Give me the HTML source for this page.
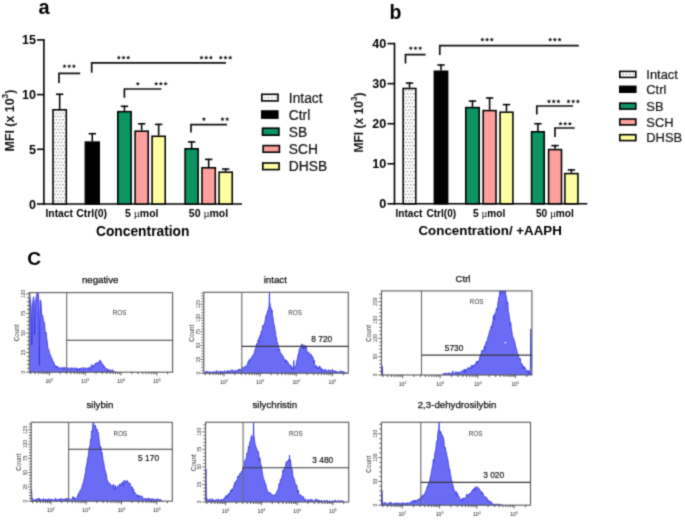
<!DOCTYPE html>
<html><head><meta charset="utf-8"><style>
html,body{margin:0;padding:0;background:#fff;}
svg{display:block;font-family:"Liberation Sans", sans-serif;}
</style></head><body>
<svg width="685" height="529" viewBox="0 0 685 529">
<rect width="685" height="529" fill="#fff"/>
<defs>
<pattern id="dots" width="3.25" height="6.5" patternUnits="userSpaceOnUse" x="54.8" y="111.6"><rect width="3.25" height="6.5" fill="#fff"/><circle cx="1.6" cy="1.6" r="0.7" fill="#707070"/><circle cx="0" cy="4.85" r="0.7" fill="#707070"/><circle cx="3.25" cy="4.85" r="0.7" fill="#707070"/></pattern>
<pattern id="dotsl" width="3.25" height="6.5" patternUnits="userSpaceOnUse" x="0.5" y="1.4"><rect width="3.25" height="6.5" fill="#fff"/><circle cx="1.6" cy="1.6" r="0.6" fill="#8a8a8a"/></pattern>
</defs>
<filter id="bl" x="0" y="0" width="685" height="529" filterUnits="userSpaceOnUse" color-interpolation-filters="sRGB"><feConvolveMatrix order="3" kernelMatrix="1 4 1 4 16 4 1 4 1" divisor="36" edgeMode="duplicate"/></filter>
<g filter="url(#bl)">
<rect width="685" height="529" fill="#fff"/>
<text x="38.60" y="13.80" font-size="20" text-anchor="start" font-weight="bold" fill="#000" >a</text>
<line x1="43.90" y1="39.10" x2="43.90" y2="204.80" stroke="#000" stroke-width="1.6" stroke-linecap="butt"/>
<line x1="43.10" y1="204.00" x2="242.00" y2="204.00" stroke="#000" stroke-width="1.6" stroke-linecap="butt"/>
<line x1="37.00" y1="204.00" x2="43.90" y2="204.00" stroke="#000" stroke-width="1.6" stroke-linecap="butt"/>
<text x="36.00" y="208.50" font-size="12.6" text-anchor="end" font-weight="bold" fill="#000" >0</text>
<line x1="37.00" y1="149.30" x2="43.90" y2="149.30" stroke="#000" stroke-width="1.6" stroke-linecap="butt"/>
<text x="36.00" y="153.80" font-size="12.6" text-anchor="end" font-weight="bold" fill="#000" >5</text>
<line x1="37.00" y1="94.60" x2="43.90" y2="94.60" stroke="#000" stroke-width="1.6" stroke-linecap="butt"/>
<text x="36.00" y="99.10" font-size="12.6" text-anchor="end" font-weight="bold" fill="#000" >10</text>
<line x1="37.00" y1="39.90" x2="43.90" y2="39.90" stroke="#000" stroke-width="1.6" stroke-linecap="butt"/>
<text x="36.00" y="44.40" font-size="12.6" text-anchor="end" font-weight="bold" fill="#000" >15</text>
<text transform="translate(14.20,120.50) rotate(-90)" font-size="12.4" font-weight="bold" text-anchor="middle" fill="#111">MFI (x 10<tspan font-size="8.4" dy="-6.2">3</tspan><tspan dy="6.2">)</tspan></text>
<line x1="59.65" y1="109.00" x2="59.65" y2="93.70" stroke="#000" stroke-width="1.55" stroke-linecap="butt"/>
<line x1="55.95" y1="94.30" x2="63.35" y2="94.30" stroke="#000" stroke-width="1.55" stroke-linecap="butt"/>
<rect x="52.98" y="109.78" width="13.35" height="94.22" fill="url(#dots)" stroke="#000" stroke-width="1.55"/>
<line x1="92.30" y1="141.30" x2="92.30" y2="133.10" stroke="#000" stroke-width="1.55" stroke-linecap="butt"/>
<line x1="88.60" y1="133.70" x2="96.00" y2="133.70" stroke="#000" stroke-width="1.55" stroke-linecap="butt"/>
<rect x="85.38" y="142.08" width="13.85" height="61.92" fill="#000" stroke="#000" stroke-width="1.55"/>
<line x1="124.45" y1="110.90" x2="124.45" y2="105.70" stroke="#000" stroke-width="1.55" stroke-linecap="butt"/>
<line x1="120.75" y1="106.30" x2="128.15" y2="106.30" stroke="#000" stroke-width="1.55" stroke-linecap="butt"/>
<rect x="117.78" y="111.68" width="13.35" height="92.32" fill="#0c9562" stroke="#000" stroke-width="1.55"/>
<line x1="141.65" y1="130.40" x2="141.65" y2="123.20" stroke="#000" stroke-width="1.55" stroke-linecap="butt"/>
<line x1="137.95" y1="123.80" x2="145.35" y2="123.80" stroke="#000" stroke-width="1.55" stroke-linecap="butt"/>
<rect x="135.08" y="131.18" width="13.15" height="72.82" fill="#ff9f9e" stroke="#000" stroke-width="1.55"/>
<line x1="158.65" y1="135.50" x2="158.65" y2="123.80" stroke="#000" stroke-width="1.55" stroke-linecap="butt"/>
<line x1="154.95" y1="124.40" x2="162.35" y2="124.40" stroke="#000" stroke-width="1.55" stroke-linecap="butt"/>
<rect x="152.08" y="136.28" width="13.15" height="67.72" fill="#ffffa2" stroke="#000" stroke-width="1.55"/>
<line x1="191.60" y1="148.00" x2="191.60" y2="141.30" stroke="#000" stroke-width="1.55" stroke-linecap="butt"/>
<line x1="187.90" y1="141.90" x2="195.30" y2="141.90" stroke="#000" stroke-width="1.55" stroke-linecap="butt"/>
<rect x="185.08" y="148.78" width="13.05" height="55.23" fill="#0c9562" stroke="#000" stroke-width="1.55"/>
<line x1="208.65" y1="167.00" x2="208.65" y2="158.80" stroke="#000" stroke-width="1.55" stroke-linecap="butt"/>
<line x1="204.95" y1="159.40" x2="212.35" y2="159.40" stroke="#000" stroke-width="1.55" stroke-linecap="butt"/>
<rect x="201.97" y="167.78" width="13.35" height="36.23" fill="#ff9f9e" stroke="#000" stroke-width="1.55"/>
<line x1="225.65" y1="171.40" x2="225.65" y2="168.50" stroke="#000" stroke-width="1.55" stroke-linecap="butt"/>
<line x1="221.95" y1="169.10" x2="229.35" y2="169.10" stroke="#000" stroke-width="1.55" stroke-linecap="butt"/>
<rect x="219.08" y="172.18" width="13.15" height="31.82" fill="#ffffa2" stroke="#000" stroke-width="1.55"/>
<polyline points="59.00,83.00 59.00,73.40 80.20,73.40" fill="none" stroke="#111" stroke-width="1.7"/>
<polygon points="64.50,64.10 65.12,65.45 66.59,65.62 65.50,66.63 65.79,68.08 64.50,67.36 63.21,68.08 63.50,66.63 62.41,65.62 63.88,65.45" fill="#1a1a1a"/>
<polygon points="69.20,64.10 69.82,65.45 71.29,65.62 70.20,66.63 70.49,68.08 69.20,67.36 67.91,68.08 68.20,66.63 67.11,65.62 68.58,65.45" fill="#1a1a1a"/>
<polygon points="73.90,64.10 74.52,65.45 75.99,65.62 74.90,66.63 75.19,68.08 73.90,67.36 72.61,68.08 72.90,66.63 71.81,65.62 73.28,65.45" fill="#1a1a1a"/>
<polyline points="91.70,72.80 91.70,62.80 226.00,62.80" fill="none" stroke="#111" stroke-width="1.7"/>
<polygon points="118.80,55.40 119.42,56.75 120.89,56.92 119.80,57.93 120.09,59.38 118.80,58.66 117.51,59.38 117.80,57.93 116.71,56.92 118.18,56.75" fill="#1a1a1a"/>
<polygon points="123.50,55.40 124.12,56.75 125.59,56.92 124.50,57.93 124.79,59.38 123.50,58.66 122.21,59.38 122.50,57.93 121.41,56.92 122.88,56.75" fill="#1a1a1a"/>
<polygon points="128.20,55.40 128.82,56.75 130.29,56.92 129.20,57.93 129.49,59.38 128.20,58.66 126.91,59.38 127.20,57.93 126.11,56.92 127.58,56.75" fill="#1a1a1a"/>
<polygon points="201.50,55.40 202.12,56.75 203.59,56.92 202.50,57.93 202.79,59.38 201.50,58.66 200.21,59.38 200.50,57.93 199.41,56.92 200.88,56.75" fill="#1a1a1a"/>
<polygon points="206.20,55.40 206.82,56.75 208.29,56.92 207.20,57.93 207.49,59.38 206.20,58.66 204.91,59.38 205.20,57.93 204.11,56.92 205.58,56.75" fill="#1a1a1a"/>
<polygon points="210.90,55.40 211.52,56.75 212.99,56.92 211.90,57.93 212.19,59.38 210.90,58.66 209.61,59.38 209.90,57.93 208.81,56.92 210.28,56.75" fill="#1a1a1a"/>
<polygon points="220.80,55.40 221.42,56.75 222.89,56.92 221.80,57.93 222.09,59.38 220.80,58.66 219.51,59.38 219.80,57.93 218.71,56.92 220.18,56.75" fill="#1a1a1a"/>
<polygon points="225.50,55.40 226.12,56.75 227.59,56.92 226.50,57.93 226.79,59.38 225.50,58.66 224.21,59.38 224.50,57.93 223.41,56.92 224.88,56.75" fill="#1a1a1a"/>
<polygon points="230.20,55.40 230.82,56.75 232.29,56.92 231.20,57.93 231.49,59.38 230.20,58.66 228.91,59.38 229.20,57.93 228.11,56.92 229.58,56.75" fill="#1a1a1a"/>
<polyline points="124.40,97.80 124.40,89.00 161.30,89.00" fill="none" stroke="#111" stroke-width="1.7"/>
<polygon points="137.80,81.60 138.42,82.95 139.89,83.12 138.80,84.13 139.09,85.58 137.80,84.86 136.51,85.58 136.80,84.13 135.71,83.12 137.18,82.95" fill="#1a1a1a"/>
<polygon points="156.20,81.60 156.82,82.95 158.29,83.12 157.20,84.13 157.49,85.58 156.20,84.86 154.91,85.58 155.20,84.13 154.11,83.12 155.58,82.95" fill="#1a1a1a"/>
<polygon points="160.90,81.60 161.52,82.95 162.99,83.12 161.90,84.13 162.19,85.58 160.90,84.86 159.61,85.58 159.90,84.13 158.81,83.12 160.28,82.95" fill="#1a1a1a"/>
<polygon points="165.60,81.60 166.22,82.95 167.69,83.12 166.60,84.13 166.89,85.58 165.60,84.86 164.31,85.58 164.60,84.13 163.51,83.12 164.98,82.95" fill="#1a1a1a"/>
<polyline points="191.00,132.40 191.00,124.60 227.00,124.60" fill="none" stroke="#111" stroke-width="1.7"/>
<polygon points="203.90,117.00 204.52,118.35 205.99,118.52 204.90,119.53 205.19,120.98 203.90,120.26 202.61,120.98 202.90,119.53 201.81,118.52 203.28,118.35" fill="#1a1a1a"/>
<polygon points="222.50,117.00 223.12,118.35 224.59,118.52 223.50,119.53 223.79,120.98 222.50,120.26 221.21,120.98 221.50,119.53 220.41,118.52 221.88,118.35" fill="#1a1a1a"/>
<polygon points="227.20,117.00 227.82,118.35 229.29,118.52 228.20,119.53 228.49,120.98 227.20,120.26 225.91,120.98 226.20,119.53 225.11,118.52 226.58,118.35" fill="#1a1a1a"/>
<text x="45.50" y="217.00" font-size="10.3" text-anchor="start" font-weight="bold" fill="#000" >Intact</text>
<text x="76.20" y="217.00" font-size="10.5" text-anchor="start" font-weight="bold" fill="#000" >Ctrl(0)</text>
<text x="125.0" y="217.0" font-size="10.5" font-weight="bold" fill="#000">5 <tspan font-weight="normal" font-family="Liberation Serif">&#181;</tspan>mol</text>
<text x="188.8" y="217.0" font-size="10.5" font-weight="bold" fill="#000">50 <tspan font-weight="normal" font-family="Liberation Serif">&#181;</tspan>mol</text>
<text x="142.70" y="236.00" font-size="13.8" text-anchor="middle" font-weight="bold" fill="#000" >Concentration</text>
<rect x="261.80" y="94.30" width="16.20" height="6.60" fill="#fff" stroke="#000" stroke-width="1.6"/>
<circle cx="265.10" cy="97.60" r="0.65" fill="#7a7a7a"/>
<circle cx="268.55" cy="97.60" r="0.65" fill="#7a7a7a"/>
<circle cx="272.00" cy="97.60" r="0.65" fill="#7a7a7a"/>
<circle cx="275.45" cy="97.60" r="0.65" fill="#7a7a7a"/>
<text x="288.80" y="102.57" font-size="13.8" text-anchor="start" font-weight="normal" fill="#111" stroke="#111" stroke-width="0.2">Intact</text>
<rect x="261.80" y="111.00" width="16.00" height="7.10" fill="#000" stroke="#000" stroke-width="1.6"/>
<text x="288.80" y="119.52" font-size="13.8" text-anchor="start" font-weight="normal" fill="#111" stroke="#111" stroke-width="0.2">Ctrl</text>
<rect x="262.50" y="128.20" width="16.40" height="7.00" fill="#0c9562" stroke="#000" stroke-width="1.6"/>
<text x="288.80" y="136.67" font-size="13.8" text-anchor="start" font-weight="normal" fill="#111" stroke="#111" stroke-width="0.2">SB</text>
<rect x="263.10" y="145.60" width="16.30" height="6.60" fill="#ff9f9e" stroke="#000" stroke-width="1.6"/>
<text x="288.80" y="153.87" font-size="13.8" text-anchor="start" font-weight="normal" fill="#111" stroke="#111" stroke-width="0.2">SCH</text>
<rect x="262.80" y="163.00" width="16.30" height="6.60" fill="#ffffa2" stroke="#000" stroke-width="1.6"/>
<text x="288.80" y="171.27" font-size="13.8" text-anchor="start" font-weight="normal" fill="#111" stroke="#111" stroke-width="0.2">DHSB</text>
<text x="389.50" y="18.60" font-size="19.5" text-anchor="start" font-weight="bold" fill="#000" >b</text>
<line x1="394.50" y1="42.80" x2="394.50" y2="204.60" stroke="#000" stroke-width="1.6" stroke-linecap="butt"/>
<line x1="393.70" y1="203.80" x2="587.30" y2="203.80" stroke="#000" stroke-width="1.6" stroke-linecap="butt"/>
<line x1="387.50" y1="203.80" x2="394.50" y2="203.80" stroke="#000" stroke-width="1.6" stroke-linecap="butt"/>
<text x="386.30" y="208.20" font-size="12.6" text-anchor="end" font-weight="bold" fill="#000" >0</text>
<line x1="387.50" y1="163.75" x2="394.50" y2="163.75" stroke="#000" stroke-width="1.6" stroke-linecap="butt"/>
<text x="386.30" y="168.15" font-size="12.6" text-anchor="end" font-weight="bold" fill="#000" >10</text>
<line x1="387.50" y1="123.70" x2="394.50" y2="123.70" stroke="#000" stroke-width="1.6" stroke-linecap="butt"/>
<text x="386.30" y="128.10" font-size="12.6" text-anchor="end" font-weight="bold" fill="#000" >20</text>
<line x1="387.50" y1="83.65" x2="394.50" y2="83.65" stroke="#000" stroke-width="1.6" stroke-linecap="butt"/>
<text x="386.30" y="88.05" font-size="12.6" text-anchor="end" font-weight="bold" fill="#000" >30</text>
<line x1="387.50" y1="43.60" x2="394.50" y2="43.60" stroke="#000" stroke-width="1.6" stroke-linecap="butt"/>
<text x="386.30" y="48.00" font-size="12.6" text-anchor="end" font-weight="bold" fill="#000" >40</text>
<text transform="translate(363.30,122.50) rotate(-90)" font-size="12.0" font-weight="bold" text-anchor="middle" fill="#111">MFI (x 10<tspan font-size="8.2" dy="-6.0">3</tspan><tspan dy="6.0">)</tspan></text>
<line x1="409.50" y1="87.70" x2="409.50" y2="82.50" stroke="#000" stroke-width="1.55" stroke-linecap="butt"/>
<line x1="405.80" y1="83.10" x2="413.20" y2="83.10" stroke="#000" stroke-width="1.55" stroke-linecap="butt"/>
<rect x="403.17" y="88.48" width="12.65" height="115.33" fill="url(#dots)" stroke="#000" stroke-width="1.55"/>
<line x1="441.00" y1="70.50" x2="441.00" y2="64.40" stroke="#000" stroke-width="1.55" stroke-linecap="butt"/>
<line x1="437.30" y1="65.00" x2="444.70" y2="65.00" stroke="#000" stroke-width="1.55" stroke-linecap="butt"/>
<rect x="434.38" y="71.28" width="13.25" height="132.53" fill="#000" stroke="#000" stroke-width="1.55"/>
<line x1="472.50" y1="106.80" x2="472.50" y2="100.50" stroke="#000" stroke-width="1.55" stroke-linecap="butt"/>
<line x1="468.80" y1="101.10" x2="476.20" y2="101.10" stroke="#000" stroke-width="1.55" stroke-linecap="butt"/>
<rect x="465.77" y="107.58" width="13.45" height="96.23" fill="#0c9562" stroke="#000" stroke-width="1.55"/>
<line x1="489.60" y1="109.80" x2="489.60" y2="97.40" stroke="#000" stroke-width="1.55" stroke-linecap="butt"/>
<line x1="485.90" y1="98.00" x2="493.30" y2="98.00" stroke="#000" stroke-width="1.55" stroke-linecap="butt"/>
<rect x="483.17" y="110.58" width="12.85" height="93.23" fill="#ff9f9e" stroke="#000" stroke-width="1.55"/>
<line x1="506.50" y1="111.40" x2="506.50" y2="104.00" stroke="#000" stroke-width="1.55" stroke-linecap="butt"/>
<line x1="502.80" y1="104.60" x2="510.20" y2="104.60" stroke="#000" stroke-width="1.55" stroke-linecap="butt"/>
<rect x="500.07" y="112.18" width="12.85" height="91.62" fill="#ffffa2" stroke="#000" stroke-width="1.55"/>
<line x1="537.90" y1="131.00" x2="537.90" y2="123.10" stroke="#000" stroke-width="1.55" stroke-linecap="butt"/>
<line x1="534.20" y1="123.70" x2="541.60" y2="123.70" stroke="#000" stroke-width="1.55" stroke-linecap="butt"/>
<rect x="531.57" y="131.78" width="12.65" height="72.03" fill="#0c9562" stroke="#000" stroke-width="1.55"/>
<line x1="555.05" y1="148.80" x2="555.05" y2="145.00" stroke="#000" stroke-width="1.55" stroke-linecap="butt"/>
<line x1="551.35" y1="145.60" x2="558.75" y2="145.60" stroke="#000" stroke-width="1.55" stroke-linecap="butt"/>
<rect x="548.57" y="149.58" width="12.95" height="54.23" fill="#ff9f9e" stroke="#000" stroke-width="1.55"/>
<line x1="571.40" y1="172.80" x2="571.40" y2="169.30" stroke="#000" stroke-width="1.55" stroke-linecap="butt"/>
<line x1="567.70" y1="169.90" x2="575.10" y2="169.90" stroke="#000" stroke-width="1.55" stroke-linecap="butt"/>
<rect x="564.88" y="173.58" width="13.05" height="30.23" fill="#ffffa2" stroke="#000" stroke-width="1.55"/>
<polyline points="405.50,63.40 405.50,54.70 425.70,54.70" fill="none" stroke="#111" stroke-width="1.7"/>
<polygon points="410.80,46.10 411.42,47.45 412.89,47.62 411.80,48.63 412.09,50.08 410.80,49.36 409.51,50.08 409.80,48.63 408.71,47.62 410.18,47.45" fill="#1a1a1a"/>
<polygon points="415.50,46.10 416.12,47.45 417.59,47.62 416.50,48.63 416.79,50.08 415.50,49.36 414.21,50.08 414.50,48.63 413.41,47.62 414.88,47.45" fill="#1a1a1a"/>
<polygon points="420.20,46.10 420.82,47.45 422.29,47.62 421.20,48.63 421.49,50.08 420.20,49.36 418.91,50.08 419.20,48.63 418.11,47.62 419.58,47.45" fill="#1a1a1a"/>
<polyline points="439.80,54.90 439.80,45.60 578.80,45.60" fill="none" stroke="#111" stroke-width="1.7"/>
<polygon points="482.40,37.40 483.02,38.75 484.49,38.92 483.40,39.93 483.69,41.38 482.40,40.66 481.11,41.38 481.40,39.93 480.31,38.92 481.78,38.75" fill="#1a1a1a"/>
<polygon points="487.10,37.40 487.72,38.75 489.19,38.92 488.10,39.93 488.39,41.38 487.10,40.66 485.81,41.38 486.10,39.93 485.01,38.92 486.48,38.75" fill="#1a1a1a"/>
<polygon points="491.80,37.40 492.42,38.75 493.89,38.92 492.80,39.93 493.09,41.38 491.80,40.66 490.51,41.38 490.80,39.93 489.71,38.92 491.18,38.75" fill="#1a1a1a"/>
<polygon points="550.20,37.40 550.82,38.75 552.29,38.92 551.20,39.93 551.49,41.38 550.20,40.66 548.91,41.38 549.20,39.93 548.11,38.92 549.58,38.75" fill="#1a1a1a"/>
<polygon points="554.90,37.40 555.52,38.75 556.99,38.92 555.90,39.93 556.19,41.38 554.90,40.66 553.61,41.38 553.90,39.93 552.81,38.92 554.28,38.75" fill="#1a1a1a"/>
<polygon points="559.60,37.40 560.22,38.75 561.69,38.92 560.60,39.93 560.89,41.38 559.60,40.66 558.31,41.38 558.60,39.93 557.51,38.92 558.98,38.75" fill="#1a1a1a"/>
<polyline points="536.80,114.50 536.80,106.00 573.00,106.00" fill="none" stroke="#111" stroke-width="1.7"/>
<polygon points="549.00,99.20 549.62,100.55 551.09,100.72 550.00,101.73 550.29,103.18 549.00,102.46 547.71,103.18 548.00,101.73 546.91,100.72 548.38,100.55" fill="#1a1a1a"/>
<polygon points="553.70,99.20 554.32,100.55 555.79,100.72 554.70,101.73 554.99,103.18 553.70,102.46 552.41,103.18 552.70,101.73 551.61,100.72 553.08,100.55" fill="#1a1a1a"/>
<polygon points="558.40,99.20 559.02,100.55 560.49,100.72 559.40,101.73 559.69,103.18 558.40,102.46 557.11,103.18 557.40,101.73 556.31,100.72 557.78,100.55" fill="#1a1a1a"/>
<polygon points="568.50,99.20 569.12,100.55 570.59,100.72 569.50,101.73 569.79,103.18 568.50,102.46 567.21,103.18 567.50,101.73 566.41,100.72 567.88,100.55" fill="#1a1a1a"/>
<polygon points="573.20,99.20 573.82,100.55 575.29,100.72 574.20,101.73 574.49,103.18 573.20,102.46 571.91,103.18 572.20,101.73 571.11,100.72 572.58,100.55" fill="#1a1a1a"/>
<polygon points="577.90,99.20 578.52,100.55 579.99,100.72 578.90,101.73 579.19,103.18 577.90,102.46 576.61,103.18 576.90,101.73 575.81,100.72 577.28,100.55" fill="#1a1a1a"/>
<polyline points="555.00,137.00 555.00,128.00 574.80,128.00" fill="none" stroke="#111" stroke-width="1.7"/>
<polygon points="560.50,121.60 561.12,122.95 562.59,123.12 561.50,124.13 561.79,125.58 560.50,124.86 559.21,125.58 559.50,124.13 558.41,123.12 559.88,122.95" fill="#1a1a1a"/>
<polygon points="565.20,121.60 565.82,122.95 567.29,123.12 566.20,124.13 566.49,125.58 565.20,124.86 563.91,125.58 564.20,124.13 563.11,123.12 564.58,122.95" fill="#1a1a1a"/>
<polygon points="569.90,121.60 570.52,122.95 571.99,123.12 570.90,124.13 571.19,125.58 569.90,124.86 568.61,125.58 568.90,124.13 567.81,123.12 569.28,122.95" fill="#1a1a1a"/>
<text x="395.50" y="216.60" font-size="10.1" text-anchor="start" font-weight="bold" fill="#000" >Intact</text>
<text x="426.40" y="216.60" font-size="10.1" text-anchor="start" font-weight="bold" fill="#000" >Ctrl(0)</text>
<text x="473.1" y="216.6" font-size="10.1" font-weight="bold" fill="#000">5 <tspan font-weight="normal" font-family="Liberation Serif">&#181;</tspan>mol</text>
<text x="535.9" y="216.6" font-size="10.1" font-weight="bold" fill="#000">50 <tspan font-weight="normal" font-family="Liberation Serif">&#181;</tspan>mol</text>
<text x="490.20" y="234.60" font-size="13.35" text-anchor="middle" font-weight="bold" fill="#000" >Concentration/ +AAPH</text>
<rect x="619.80" y="71.40" width="16.00" height="6.00" fill="#fff" stroke="#000" stroke-width="1.6"/>
<circle cx="623.10" cy="74.40" r="0.65" fill="#7a7a7a"/>
<circle cx="626.55" cy="74.40" r="0.65" fill="#7a7a7a"/>
<circle cx="630.00" cy="74.40" r="0.65" fill="#7a7a7a"/>
<circle cx="633.45" cy="74.40" r="0.65" fill="#7a7a7a"/>
<text x="646.30" y="79.04" font-size="12.9" text-anchor="start" font-weight="normal" fill="#111" stroke="#111" stroke-width="0.2">Intact</text>
<rect x="619.80" y="86.40" width="16.00" height="5.80" fill="#000" stroke="#000" stroke-width="1.6"/>
<text x="646.30" y="93.94" font-size="12.9" text-anchor="start" font-weight="normal" fill="#111" stroke="#111" stroke-width="0.2">Ctrl</text>
<rect x="619.80" y="103.20" width="16.00" height="5.90" fill="#0c9562" stroke="#000" stroke-width="1.6"/>
<text x="646.30" y="110.79" font-size="12.9" text-anchor="start" font-weight="normal" fill="#111" stroke="#111" stroke-width="0.2">SB</text>
<rect x="619.80" y="119.00" width="16.00" height="5.90" fill="#ff9f9e" stroke="#000" stroke-width="1.6"/>
<text x="646.30" y="126.59" font-size="12.9" text-anchor="start" font-weight="normal" fill="#111" stroke="#111" stroke-width="0.2">SCH</text>
<rect x="619.80" y="134.70" width="16.00" height="5.90" fill="#ffffa2" stroke="#000" stroke-width="1.6"/>
<text x="646.30" y="142.29" font-size="12.9" text-anchor="start" font-weight="normal" fill="#111" stroke="#111" stroke-width="0.2">DHSB</text>
<text x="27.30" y="264.70" font-size="19.2" text-anchor="start" font-weight="bold" fill="#000" >C</text>
<polygon points="29.60,372.20 29.60,292.76 29.70,292.60 30.10,298.04 30.60,301.32 31.10,305.82 31.60,325.96 31.80,345.00 32.10,317.62 32.60,303.95 33.10,298.97 33.60,296.73 34.10,302.10 34.60,335.00 34.60,335.00 35.10,302.40 35.60,301.00 36.10,297.16 36.60,295.56 37.10,292.60 37.60,292.88 38.00,292.60 38.10,293.40 38.60,295.06 39.10,318.39 39.40,365.00 39.60,334.66 40.10,300.26 40.60,299.97 41.10,303.60 41.60,314.03 42.10,315.37 42.60,315.07 43.10,318.56 43.60,320.37 44.10,323.21 44.60,322.70 45.10,331.25 45.60,333.13 46.10,332.22 46.60,337.43 47.10,340.33 47.60,345.03 48.10,349.55 48.60,349.21 49.10,350.65 49.60,353.81 50.10,354.41 50.60,354.95 51.10,357.39 51.60,357.63 52.10,358.72 52.60,360.11 53.10,362.05 53.60,362.07 54.10,362.98 54.60,364.80 55.10,366.96 55.60,365.66 56.10,367.10 56.60,365.99 57.10,368.11 57.60,366.44 58.10,367.53 58.60,368.73 59.10,367.89 59.60,367.59 60.10,367.43 60.60,368.65 61.10,368.80 61.60,367.63 62.10,368.29 62.60,367.68 63.10,367.24 63.60,369.51 64.10,367.80 64.60,366.95 65.10,368.39 65.60,368.91 66.10,367.52 66.60,367.99 67.10,367.43 67.60,368.58 68.10,369.64 68.60,368.41 69.10,368.74 69.60,367.65 70.10,368.20 70.60,369.87 71.10,369.50 71.60,367.64 72.10,367.85 72.60,369.06 73.10,368.51 73.60,368.13 74.10,368.13 74.60,367.78 75.10,368.36 75.60,368.70 76.10,368.86 76.60,367.71 77.10,370.68 77.60,368.82 78.10,368.69 78.60,370.01 79.10,368.47 79.60,369.36 80.10,368.03 80.60,368.88 81.10,368.14 81.60,367.62 82.10,368.33 82.60,369.43 83.10,369.97 83.60,367.01 84.10,368.65 84.60,369.14 85.10,368.36 85.60,368.64 86.10,367.66 86.60,368.37 87.10,368.36 87.60,368.99 88.10,367.89 88.60,369.23 89.10,367.65 89.60,366.83 90.10,369.52 90.60,370.03 91.10,366.73 91.60,364.46 92.10,367.50 92.60,367.37 93.10,365.12 93.60,366.18 94.10,365.44 94.60,364.87 95.10,363.52 95.60,364.10 96.10,362.95 96.60,363.03 97.10,363.40 97.60,362.59 98.10,363.08 98.60,361.78 99.10,362.85 99.60,362.60 100.10,359.94 100.60,362.03 101.10,362.40 101.60,362.14 102.10,363.64 102.60,364.29 103.10,364.48 103.60,365.52 104.10,367.74 104.60,366.30 105.10,368.15 105.60,369.07 106.10,369.41 106.60,369.44 107.10,368.15 107.60,370.66 108.10,369.68 108.60,371.72 109.10,370.10 109.60,369.51 110.10,370.57 110.60,371.02 111.10,370.48 111.60,370.27 112.10,370.44 112.60,369.62 113.10,371.08 113.60,371.81 114.10,371.62 114.60,371.73 115.10,371.83 115.60,371.98 116.10,372.20 116.60,372.20 117.10,372.20 117.60,372.20 118.10,372.20 118.60,372.20 119.10,372.20 119.60,372.20 120.10,372.20 120.60,372.20 121.10,372.20 121.60,372.20 122.10,372.20 122.60,372.20 123.10,372.20 123.60,372.20 124.10,372.20 124.60,372.20 125.10,372.20 125.60,372.20 126.10,372.20 126.60,372.20 127.10,372.20 127.60,372.20 128.10,372.20 128.60,372.20 129.10,372.20 129.60,372.20 130.10,372.20 130.60,372.20 131.10,372.20 131.60,372.20 132.10,372.20 132.60,372.20 133.10,372.20 133.60,372.20 134.10,372.20 134.60,372.20 135.10,372.20 135.60,372.20 136.10,372.20 136.60,372.20 137.10,372.20 137.60,372.20 138.10,372.20 138.60,372.20 139.10,372.20 139.60,372.20 140.10,372.20 140.60,372.20 141.10,372.20 141.60,372.20 142.10,372.20 142.60,372.20 143.10,372.20 143.60,372.20 144.10,372.20 144.60,372.20 145.10,372.20 145.60,372.20 146.10,372.20 146.60,372.20 147.10,372.20 147.60,372.20 148.10,372.20 148.60,372.20 149.10,372.20 149.60,372.20 150.10,372.20 150.60,372.20 151.10,372.20 151.60,372.20 152.10,372.20 152.60,372.20 153.10,372.20 153.60,372.20 154.10,372.20 154.60,372.20 155.10,372.20 155.60,372.20 156.10,372.20 156.60,372.20 157.10,372.20 157.60,372.20 158.10,372.20 158.60,372.20 159.10,372.20 159.60,372.20 160.10,372.20 160.60,372.20 161.10,372.20 161.60,372.20 162.10,372.20 162.60,372.20 163.10,372.20 163.60,372.20 164.10,372.20 164.60,372.20 165.10,372.20 165.60,372.20 166.10,372.20 166.60,372.20 167.10,372.20 167.60,372.20 168.10,372.20 168.60,372.20 169.10,372.20 169.60,372.20 170.10,372.20 170.60,372.20 171.10,372.20 171.60,372.20 172.10,372.20 172.30,372.20" fill="#6a6cf6" stroke="none"/>
<polyline points="29.60,292.76 29.70,292.60 30.10,298.04 30.60,301.32 31.10,305.82 31.60,325.96 31.80,345.00 32.10,317.62 32.60,303.95 33.10,298.97 33.60,296.73 34.10,302.10 34.60,335.00 34.60,335.00 35.10,302.40 35.60,301.00 36.10,297.16 36.60,295.56 37.10,292.60 37.60,292.88 38.00,292.60 38.10,293.40 38.60,295.06 39.10,318.39 39.40,365.00 39.60,334.66 40.10,300.26 40.60,299.97 41.10,303.60 41.60,314.03 42.10,315.37 42.60,315.07 43.10,318.56 43.60,320.37 44.10,323.21 44.60,322.70 45.10,331.25 45.60,333.13 46.10,332.22 46.60,337.43 47.10,340.33 47.60,345.03 48.10,349.55 48.60,349.21 49.10,350.65 49.60,353.81 50.10,354.41 50.60,354.95 51.10,357.39 51.60,357.63 52.10,358.72 52.60,360.11 53.10,362.05 53.60,362.07 54.10,362.98 54.60,364.80 55.10,366.96 55.60,365.66 56.10,367.10 56.60,365.99 57.10,368.11 57.60,366.44 58.10,367.53 58.60,368.73 59.10,367.89 59.60,367.59 60.10,367.43 60.60,368.65 61.10,368.80 61.60,367.63 62.10,368.29 62.60,367.68 63.10,367.24 63.60,369.51 64.10,367.80 64.60,366.95 65.10,368.39 65.60,368.91 66.10,367.52 66.60,367.99 67.10,367.43 67.60,368.58 68.10,369.64 68.60,368.41 69.10,368.74 69.60,367.65 70.10,368.20 70.60,369.87 71.10,369.50 71.60,367.64 72.10,367.85 72.60,369.06 73.10,368.51 73.60,368.13 74.10,368.13 74.60,367.78 75.10,368.36 75.60,368.70 76.10,368.86 76.60,367.71 77.10,370.68 77.60,368.82 78.10,368.69 78.60,370.01 79.10,368.47 79.60,369.36 80.10,368.03 80.60,368.88 81.10,368.14 81.60,367.62 82.10,368.33 82.60,369.43 83.10,369.97 83.60,367.01 84.10,368.65 84.60,369.14 85.10,368.36 85.60,368.64 86.10,367.66 86.60,368.37 87.10,368.36 87.60,368.99 88.10,367.89 88.60,369.23 89.10,367.65 89.60,366.83 90.10,369.52 90.60,370.03 91.10,366.73 91.60,364.46 92.10,367.50 92.60,367.37 93.10,365.12 93.60,366.18 94.10,365.44 94.60,364.87 95.10,363.52 95.60,364.10 96.10,362.95 96.60,363.03 97.10,363.40 97.60,362.59 98.10,363.08 98.60,361.78 99.10,362.85 99.60,362.60 100.10,359.94 100.60,362.03 101.10,362.40 101.60,362.14 102.10,363.64 102.60,364.29 103.10,364.48 103.60,365.52 104.10,367.74 104.60,366.30 105.10,368.15 105.60,369.07 106.10,369.41 106.60,369.44 107.10,368.15 107.60,370.66 108.10,369.68 108.60,371.72 109.10,370.10 109.60,369.51 110.10,370.57 110.60,371.02 111.10,370.48 111.60,370.27 112.10,370.44 112.60,369.62 113.10,371.08 113.60,371.81 114.10,371.62 114.60,371.73 115.10,371.83 115.60,371.98" fill="none" stroke="#2c2ce2" stroke-width="0.75" stroke-linejoin="round"/>
<rect x="29.30" y="292.60" width="143.30" height="79.60" fill="none" stroke="#5a5a5a" stroke-width="1.1"/>
<line x1="66.70" y1="292.60" x2="66.70" y2="372.20" stroke="#686868" stroke-width="1.1" stroke-linecap="butt"/>
<line x1="66.70" y1="340.30" x2="172.60" y2="340.30" stroke="#3a3a3a" stroke-width="1.1" stroke-linecap="butt"/>
<text x="119.65" y="315.10" font-size="6.3" text-anchor="middle" font-weight="normal" fill="#333" >ROS</text>
<text x="100.20" y="283.20" font-size="9.7" text-anchor="middle" font-weight="normal" fill="#111" stroke="#111" stroke-width="0.25">negative</text>
<line x1="30.63" y1="372.20" x2="30.63" y2="374.20" stroke="#2a2a2a" stroke-width="0.75" stroke-linecap="butt"/>
<line x1="35.11" y1="372.20" x2="35.11" y2="374.20" stroke="#2a2a2a" stroke-width="0.75" stroke-linecap="butt"/>
<line x1="38.58" y1="372.20" x2="38.58" y2="374.20" stroke="#2a2a2a" stroke-width="0.75" stroke-linecap="butt"/>
<line x1="41.41" y1="372.20" x2="41.41" y2="374.20" stroke="#2a2a2a" stroke-width="0.75" stroke-linecap="butt"/>
<line x1="43.81" y1="372.20" x2="43.81" y2="374.20" stroke="#2a2a2a" stroke-width="0.75" stroke-linecap="butt"/>
<line x1="45.89" y1="372.20" x2="45.89" y2="374.20" stroke="#2a2a2a" stroke-width="0.75" stroke-linecap="butt"/>
<line x1="47.72" y1="372.20" x2="47.72" y2="374.20" stroke="#2a2a2a" stroke-width="0.75" stroke-linecap="butt"/>
<line x1="49.36" y1="372.20" x2="49.36" y2="375.40" stroke="#2a2a2a" stroke-width="0.75" stroke-linecap="butt"/>
<line x1="60.15" y1="372.20" x2="60.15" y2="374.20" stroke="#2a2a2a" stroke-width="0.75" stroke-linecap="butt"/>
<line x1="66.45" y1="372.20" x2="66.45" y2="374.20" stroke="#2a2a2a" stroke-width="0.75" stroke-linecap="butt"/>
<line x1="70.93" y1="372.20" x2="70.93" y2="374.20" stroke="#2a2a2a" stroke-width="0.75" stroke-linecap="butt"/>
<line x1="74.40" y1="372.20" x2="74.40" y2="374.20" stroke="#2a2a2a" stroke-width="0.75" stroke-linecap="butt"/>
<line x1="77.24" y1="372.20" x2="77.24" y2="374.20" stroke="#2a2a2a" stroke-width="0.75" stroke-linecap="butt"/>
<line x1="79.64" y1="372.20" x2="79.64" y2="374.20" stroke="#2a2a2a" stroke-width="0.75" stroke-linecap="butt"/>
<line x1="81.72" y1="372.20" x2="81.72" y2="374.20" stroke="#2a2a2a" stroke-width="0.75" stroke-linecap="butt"/>
<line x1="83.55" y1="372.20" x2="83.55" y2="374.20" stroke="#2a2a2a" stroke-width="0.75" stroke-linecap="butt"/>
<text x="49.36" y="382.70" font-size="5.2" text-anchor="middle" fill="#222">10<tspan font-size="3.5" dy="-2">2</tspan></text>
<line x1="85.19" y1="372.20" x2="85.19" y2="375.40" stroke="#2a2a2a" stroke-width="0.75" stroke-linecap="butt"/>
<line x1="95.97" y1="372.20" x2="95.97" y2="374.20" stroke="#2a2a2a" stroke-width="0.75" stroke-linecap="butt"/>
<line x1="102.28" y1="372.20" x2="102.28" y2="374.20" stroke="#2a2a2a" stroke-width="0.75" stroke-linecap="butt"/>
<line x1="106.76" y1="372.20" x2="106.76" y2="374.20" stroke="#2a2a2a" stroke-width="0.75" stroke-linecap="butt"/>
<line x1="110.23" y1="372.20" x2="110.23" y2="374.20" stroke="#2a2a2a" stroke-width="0.75" stroke-linecap="butt"/>
<line x1="113.06" y1="372.20" x2="113.06" y2="374.20" stroke="#2a2a2a" stroke-width="0.75" stroke-linecap="butt"/>
<line x1="115.46" y1="372.20" x2="115.46" y2="374.20" stroke="#2a2a2a" stroke-width="0.75" stroke-linecap="butt"/>
<line x1="117.54" y1="372.20" x2="117.54" y2="374.20" stroke="#2a2a2a" stroke-width="0.75" stroke-linecap="butt"/>
<line x1="119.37" y1="372.20" x2="119.37" y2="374.20" stroke="#2a2a2a" stroke-width="0.75" stroke-linecap="butt"/>
<text x="85.19" y="382.70" font-size="5.2" text-anchor="middle" fill="#222">10<tspan font-size="3.5" dy="-2">3</tspan></text>
<line x1="121.01" y1="372.20" x2="121.01" y2="375.40" stroke="#2a2a2a" stroke-width="0.75" stroke-linecap="butt"/>
<line x1="131.80" y1="372.20" x2="131.80" y2="374.20" stroke="#2a2a2a" stroke-width="0.75" stroke-linecap="butt"/>
<line x1="138.10" y1="372.20" x2="138.10" y2="374.20" stroke="#2a2a2a" stroke-width="0.75" stroke-linecap="butt"/>
<line x1="142.58" y1="372.20" x2="142.58" y2="374.20" stroke="#2a2a2a" stroke-width="0.75" stroke-linecap="butt"/>
<line x1="146.05" y1="372.20" x2="146.05" y2="374.20" stroke="#2a2a2a" stroke-width="0.75" stroke-linecap="butt"/>
<line x1="148.89" y1="372.20" x2="148.89" y2="374.20" stroke="#2a2a2a" stroke-width="0.75" stroke-linecap="butt"/>
<line x1="151.29" y1="372.20" x2="151.29" y2="374.20" stroke="#2a2a2a" stroke-width="0.75" stroke-linecap="butt"/>
<line x1="153.37" y1="372.20" x2="153.37" y2="374.20" stroke="#2a2a2a" stroke-width="0.75" stroke-linecap="butt"/>
<line x1="155.20" y1="372.20" x2="155.20" y2="374.20" stroke="#2a2a2a" stroke-width="0.75" stroke-linecap="butt"/>
<text x="121.01" y="382.70" font-size="5.2" text-anchor="middle" fill="#222">10<tspan font-size="3.5" dy="-2">4</tspan></text>
<line x1="156.84" y1="372.20" x2="156.84" y2="375.40" stroke="#2a2a2a" stroke-width="0.75" stroke-linecap="butt"/>
<line x1="167.62" y1="372.20" x2="167.62" y2="374.20" stroke="#2a2a2a" stroke-width="0.75" stroke-linecap="butt"/>
<text x="156.84" y="382.70" font-size="5.2" text-anchor="middle" fill="#222">10<tspan font-size="3.5" dy="-2">5</tspan></text>
<line x1="25.80" y1="372.20" x2="29.30" y2="372.20" stroke="#2a2a2a" stroke-width="0.65" stroke-linecap="butt"/>
<line x1="26.90" y1="368.28" x2="29.30" y2="368.28" stroke="#2a2a2a" stroke-width="0.65" stroke-linecap="butt"/>
<line x1="26.90" y1="364.37" x2="29.30" y2="364.37" stroke="#2a2a2a" stroke-width="0.65" stroke-linecap="butt"/>
<line x1="26.90" y1="360.45" x2="29.30" y2="360.45" stroke="#2a2a2a" stroke-width="0.65" stroke-linecap="butt"/>
<line x1="26.90" y1="356.53" x2="29.30" y2="356.53" stroke="#2a2a2a" stroke-width="0.65" stroke-linecap="butt"/>
<line x1="25.80" y1="352.62" x2="29.30" y2="352.62" stroke="#2a2a2a" stroke-width="0.65" stroke-linecap="butt"/>
<line x1="26.90" y1="348.70" x2="29.30" y2="348.70" stroke="#2a2a2a" stroke-width="0.65" stroke-linecap="butt"/>
<line x1="26.90" y1="344.79" x2="29.30" y2="344.79" stroke="#2a2a2a" stroke-width="0.65" stroke-linecap="butt"/>
<line x1="26.90" y1="340.87" x2="29.30" y2="340.87" stroke="#2a2a2a" stroke-width="0.65" stroke-linecap="butt"/>
<line x1="26.90" y1="336.95" x2="29.30" y2="336.95" stroke="#2a2a2a" stroke-width="0.65" stroke-linecap="butt"/>
<line x1="25.80" y1="333.04" x2="29.30" y2="333.04" stroke="#2a2a2a" stroke-width="0.65" stroke-linecap="butt"/>
<line x1="26.90" y1="329.12" x2="29.30" y2="329.12" stroke="#2a2a2a" stroke-width="0.65" stroke-linecap="butt"/>
<line x1="26.90" y1="325.20" x2="29.30" y2="325.20" stroke="#2a2a2a" stroke-width="0.65" stroke-linecap="butt"/>
<line x1="26.90" y1="321.29" x2="29.30" y2="321.29" stroke="#2a2a2a" stroke-width="0.65" stroke-linecap="butt"/>
<line x1="26.90" y1="317.37" x2="29.30" y2="317.37" stroke="#2a2a2a" stroke-width="0.65" stroke-linecap="butt"/>
<line x1="25.80" y1="313.46" x2="29.30" y2="313.46" stroke="#2a2a2a" stroke-width="0.65" stroke-linecap="butt"/>
<line x1="26.90" y1="309.54" x2="29.30" y2="309.54" stroke="#2a2a2a" stroke-width="0.65" stroke-linecap="butt"/>
<line x1="26.90" y1="305.62" x2="29.30" y2="305.62" stroke="#2a2a2a" stroke-width="0.65" stroke-linecap="butt"/>
<line x1="26.90" y1="301.71" x2="29.30" y2="301.71" stroke="#2a2a2a" stroke-width="0.65" stroke-linecap="butt"/>
<line x1="26.90" y1="297.79" x2="29.30" y2="297.79" stroke="#2a2a2a" stroke-width="0.65" stroke-linecap="butt"/>
<line x1="25.80" y1="293.87" x2="29.30" y2="293.87" stroke="#2a2a2a" stroke-width="0.65" stroke-linecap="butt"/>
<text transform="translate(25.00,372.20) rotate(-90)" font-size="4.8" text-anchor="middle" fill="#333">0</text>
<text transform="translate(25.00,352.62) rotate(-90)" font-size="4.8" text-anchor="middle" fill="#333">25</text>
<text transform="translate(25.00,333.04) rotate(-90)" font-size="4.8" text-anchor="middle" fill="#333">50</text>
<text transform="translate(25.00,313.46) rotate(-90)" font-size="4.8" text-anchor="middle" fill="#333">75</text>
<text transform="translate(25.00,293.87) rotate(-90)" font-size="4.8" text-anchor="middle" fill="#333">100</text>
<text transform="translate(19.20,332.90) rotate(-90)" font-size="6.3" text-anchor="middle" fill="#222">Count</text>
<polygon points="204.10,373.20 204.10,372.10 204.60,372.56 205.10,372.48 205.60,373.20 206.10,370.96 206.60,371.39 207.10,372.37 207.60,371.62 208.10,371.94 208.60,372.49 209.10,371.44 209.60,372.30 210.10,372.30 210.60,372.61 211.10,371.74 211.60,372.11 212.10,371.65 212.60,372.43 213.10,371.92 213.60,372.60 214.10,371.40 214.60,371.84 215.10,371.72 215.60,371.66 216.10,372.63 216.60,371.37 217.10,370.48 217.60,373.03 218.10,373.08 218.60,372.91 219.10,371.27 219.60,371.75 220.10,371.07 220.60,371.31 221.10,371.66 221.60,371.59 222.10,371.90 222.60,371.16 223.10,372.55 223.60,372.04 224.10,371.56 224.60,370.44 225.10,372.24 225.60,372.46 226.10,372.08 226.60,370.98 227.10,371.82 227.60,370.70 228.10,372.96 228.60,370.81 229.10,370.87 229.60,372.61 230.10,371.46 230.60,370.61 231.10,371.34 231.60,370.59 232.10,369.49 232.60,370.96 233.10,371.29 233.60,371.58 234.10,370.43 234.60,370.99 235.10,370.89 235.60,370.76 236.10,370.09 236.60,371.34 237.10,371.62 237.60,372.26 238.10,369.33 238.60,370.13 239.10,368.91 239.60,370.04 240.10,370.51 240.60,369.28 241.10,369.48 241.60,370.21 242.10,369.67 242.60,367.16 243.10,367.98 243.60,367.54 244.10,367.77 244.60,367.77 245.10,365.94 245.60,366.48 246.10,366.71 246.60,365.39 247.10,365.33 247.60,363.42 248.10,361.62 248.60,362.84 249.10,359.61 249.60,361.04 250.10,359.32 250.60,359.61 251.10,358.10 251.60,356.96 252.10,356.52 252.60,355.84 253.10,354.81 253.60,353.99 254.10,353.94 254.60,351.29 255.10,349.42 255.60,347.74 256.10,347.06 256.60,343.62 257.10,345.33 257.60,344.73 258.10,339.79 258.60,342.26 259.10,337.68 259.60,338.83 260.10,335.22 260.60,337.08 261.10,331.08 261.60,331.30 262.10,331.16 262.60,325.54 263.10,325.57 263.60,325.31 264.10,325.20 264.60,322.63 265.10,321.25 265.60,317.47 266.10,315.06 266.60,315.35 267.10,312.89 267.60,310.77 268.10,310.85 268.60,308.06 269.10,305.74 269.50,292.30 269.60,302.41 270.10,303.63 270.60,308.87 271.10,307.97 271.60,312.18 272.10,310.17 272.60,316.33 273.10,317.82 273.60,322.67 274.10,324.99 274.60,326.36 275.10,330.32 275.60,332.21 276.10,338.13 276.60,337.85 277.10,343.13 277.60,342.52 278.10,346.47 278.60,345.81 279.10,350.30 279.60,349.11 280.10,351.99 280.60,352.67 281.10,353.22 281.60,354.83 282.10,355.21 282.60,355.28 283.10,356.03 283.60,357.53 284.10,359.61 284.60,359.60 285.10,359.54 285.60,362.29 286.10,359.77 286.60,361.48 287.10,362.12 287.60,361.49 288.10,362.40 288.60,363.46 289.10,365.28 289.60,364.59 290.10,365.16 290.60,366.93 291.10,365.73 291.60,366.84 292.10,369.52 292.60,367.62 293.10,368.82 293.60,364.67 293.80,360.40 294.10,366.80 294.60,368.56 295.10,368.07 295.60,365.82 296.10,364.81 296.60,361.41 297.10,359.58 297.60,358.12 298.10,354.52 298.60,355.15 299.10,349.95 299.60,348.21 300.10,348.56 300.60,348.26 301.10,345.74 301.60,343.87 302.10,346.23 302.60,348.01 303.10,344.56 303.60,349.03 304.10,345.83 304.60,347.29 305.10,345.25 305.60,348.14 306.10,346.50 306.60,349.10 307.10,352.94 307.60,354.46 308.10,353.43 308.60,351.78 309.10,353.54 309.60,353.94 310.10,354.64 310.60,353.79 311.10,354.56 311.60,355.00 312.10,357.73 312.60,356.70 313.10,358.01 313.60,362.39 314.10,360.07 314.60,363.21 315.10,365.67 315.60,367.46 316.10,365.47 316.60,366.02 317.10,367.52 317.60,369.03 318.10,366.82 318.60,368.48 319.10,368.54 319.60,365.81 320.10,366.60 320.60,367.77 321.10,369.13 321.60,368.35 322.10,370.97 322.60,369.13 323.10,370.00 323.60,370.58 324.10,370.97 324.60,369.42 325.10,369.90 325.60,369.89 326.10,369.40 326.60,370.79 327.10,371.14 327.60,371.61 328.10,370.52 328.60,369.70 329.10,370.46 329.60,369.89 330.10,371.36 330.60,370.85 331.10,371.13 331.60,371.54 332.10,369.20 332.60,370.02 333.10,371.30 333.60,371.35 334.10,370.86 334.60,371.95 335.10,370.58 335.60,371.93 336.10,371.28 336.60,371.81 337.10,371.45 337.60,372.13 338.10,372.36 338.60,372.01 339.10,371.89 339.60,371.71 340.10,371.55 340.60,370.62 341.10,371.24 341.60,372.08 342.10,371.51 342.60,372.58 343.10,371.24 343.60,371.95 344.10,373.20 344.60,372.03 345.10,372.10 345.60,373.20 346.10,372.82 346.60,372.92 347.10,373.02 347.60,373.12 348.00,373.20" fill="#6a6cf6" stroke="none"/>
<polyline points="204.10,372.10 204.60,372.56 205.10,372.48 205.60,373.20 206.10,370.96 206.60,371.39 207.10,372.37 207.60,371.62 208.10,371.94 208.60,372.49 209.10,371.44 209.60,372.30 210.10,372.30 210.60,372.61 211.10,371.74 211.60,372.11 212.10,371.65 212.60,372.43 213.10,371.92 213.60,372.60 214.10,371.40 214.60,371.84 215.10,371.72 215.60,371.66 216.10,372.63 216.60,371.37 217.10,370.48 217.60,373.03" fill="none" stroke="#2c2ce2" stroke-width="0.75" stroke-linejoin="round"/>
<polyline points="218.60,372.91 219.10,371.27 219.60,371.75 220.10,371.07 220.60,371.31 221.10,371.66 221.60,371.59 222.10,371.90 222.60,371.16 223.10,372.55 223.60,372.04 224.10,371.56 224.60,370.44 225.10,372.24 225.60,372.46 226.10,372.08 226.60,370.98 227.10,371.82 227.60,370.70 228.10,372.96 228.60,370.81 229.10,370.87 229.60,372.61 230.10,371.46 230.60,370.61 231.10,371.34 231.60,370.59 232.10,369.49 232.60,370.96 233.10,371.29 233.60,371.58 234.10,370.43 234.60,370.99 235.10,370.89 235.60,370.76 236.10,370.09 236.60,371.34 237.10,371.62 237.60,372.26 238.10,369.33 238.60,370.13 239.10,368.91 239.60,370.04 240.10,370.51 240.60,369.28 241.10,369.48 241.60,370.21 242.10,369.67 242.60,367.16 243.10,367.98 243.60,367.54 244.10,367.77 244.60,367.77 245.10,365.94 245.60,366.48 246.10,366.71 246.60,365.39 247.10,365.33 247.60,363.42 248.10,361.62 248.60,362.84 249.10,359.61 249.60,361.04 250.10,359.32 250.60,359.61 251.10,358.10 251.60,356.96 252.10,356.52 252.60,355.84 253.10,354.81 253.60,353.99 254.10,353.94 254.60,351.29 255.10,349.42 255.60,347.74 256.10,347.06 256.60,343.62 257.10,345.33 257.60,344.73 258.10,339.79 258.60,342.26 259.10,337.68 259.60,338.83 260.10,335.22 260.60,337.08 261.10,331.08 261.60,331.30 262.10,331.16 262.60,325.54 263.10,325.57 263.60,325.31 264.10,325.20 264.60,322.63 265.10,321.25 265.60,317.47 266.10,315.06 266.60,315.35 267.10,312.89 267.60,310.77 268.10,310.85 268.60,308.06 269.10,305.74 269.50,292.30 269.60,302.41 270.10,303.63 270.60,308.87 271.10,307.97 271.60,312.18 272.10,310.17 272.60,316.33 273.10,317.82 273.60,322.67 274.10,324.99 274.60,326.36 275.10,330.32 275.60,332.21 276.10,338.13 276.60,337.85 277.10,343.13 277.60,342.52 278.10,346.47 278.60,345.81 279.10,350.30 279.60,349.11 280.10,351.99 280.60,352.67 281.10,353.22 281.60,354.83 282.10,355.21 282.60,355.28 283.10,356.03 283.60,357.53 284.10,359.61 284.60,359.60 285.10,359.54 285.60,362.29 286.10,359.77 286.60,361.48 287.10,362.12 287.60,361.49 288.10,362.40 288.60,363.46 289.10,365.28 289.60,364.59 290.10,365.16 290.60,366.93 291.10,365.73 291.60,366.84 292.10,369.52 292.60,367.62 293.10,368.82 293.60,364.67 293.80,360.40 294.10,366.80 294.60,368.56 295.10,368.07 295.60,365.82 296.10,364.81 296.60,361.41 297.10,359.58 297.60,358.12 298.10,354.52 298.60,355.15 299.10,349.95 299.60,348.21 300.10,348.56 300.60,348.26 301.10,345.74 301.60,343.87 302.10,346.23 302.60,348.01 303.10,344.56 303.60,349.03 304.10,345.83 304.60,347.29 305.10,345.25 305.60,348.14 306.10,346.50 306.60,349.10 307.10,352.94 307.60,354.46 308.10,353.43 308.60,351.78 309.10,353.54 309.60,353.94 310.10,354.64 310.60,353.79 311.10,354.56 311.60,355.00 312.10,357.73 312.60,356.70 313.10,358.01 313.60,362.39 314.10,360.07 314.60,363.21 315.10,365.67 315.60,367.46 316.10,365.47 316.60,366.02 317.10,367.52 317.60,369.03 318.10,366.82 318.60,368.48 319.10,368.54 319.60,365.81 320.10,366.60 320.60,367.77 321.10,369.13 321.60,368.35 322.10,370.97 322.60,369.13 323.10,370.00 323.60,370.58 324.10,370.97 324.60,369.42 325.10,369.90 325.60,369.89 326.10,369.40 326.60,370.79 327.10,371.14 327.60,371.61 328.10,370.52 328.60,369.70 329.10,370.46 329.60,369.89 330.10,371.36 330.60,370.85 331.10,371.13 331.60,371.54 332.10,369.20 332.60,370.02 333.10,371.30 333.60,371.35 334.10,370.86 334.60,371.95 335.10,370.58 335.60,371.93 336.10,371.28 336.60,371.81 337.10,371.45 337.60,372.13 338.10,372.36 338.60,372.01 339.10,371.89 339.60,371.71 340.10,371.55 340.60,370.62 341.10,371.24 341.60,372.08 342.10,371.51 342.60,372.58 343.10,371.24 343.60,371.95 344.10,373.20 344.60,372.03 345.10,372.10 345.60,373.20 346.10,372.82 346.60,372.92" fill="none" stroke="#2c2ce2" stroke-width="0.75" stroke-linejoin="round"/>
<rect x="203.80" y="292.30" width="144.50" height="80.90" fill="none" stroke="#5a5a5a" stroke-width="1.1"/>
<line x1="241.80" y1="292.30" x2="241.80" y2="373.20" stroke="#686868" stroke-width="1.1" stroke-linecap="butt"/>
<line x1="241.80" y1="346.40" x2="348.30" y2="346.40" stroke="#3a3a3a" stroke-width="1.1" stroke-linecap="butt"/>
<text x="295.05" y="315.00" font-size="6.3" text-anchor="middle" font-weight="normal" fill="#333" >ROS</text>
<text x="275.30" y="282.90" font-size="9.7" text-anchor="middle" font-weight="normal" fill="#111" stroke="#111" stroke-width="0.25">intact</text>
<text x="311.30" y="341.80" font-size="8.4" text-anchor="start" font-weight="normal" fill="#111" stroke="#111" stroke-width="0.2">8 720</text>
<line x1="205.14" y1="373.20" x2="205.14" y2="375.20" stroke="#2a2a2a" stroke-width="0.75" stroke-linecap="butt"/>
<line x1="209.65" y1="373.20" x2="209.65" y2="375.20" stroke="#2a2a2a" stroke-width="0.75" stroke-linecap="butt"/>
<line x1="213.16" y1="373.20" x2="213.16" y2="375.20" stroke="#2a2a2a" stroke-width="0.75" stroke-linecap="butt"/>
<line x1="216.02" y1="373.20" x2="216.02" y2="375.20" stroke="#2a2a2a" stroke-width="0.75" stroke-linecap="butt"/>
<line x1="218.43" y1="373.20" x2="218.43" y2="375.20" stroke="#2a2a2a" stroke-width="0.75" stroke-linecap="butt"/>
<line x1="220.53" y1="373.20" x2="220.53" y2="375.20" stroke="#2a2a2a" stroke-width="0.75" stroke-linecap="butt"/>
<line x1="222.38" y1="373.20" x2="222.38" y2="375.20" stroke="#2a2a2a" stroke-width="0.75" stroke-linecap="butt"/>
<line x1="224.03" y1="373.20" x2="224.03" y2="376.40" stroke="#2a2a2a" stroke-width="0.75" stroke-linecap="butt"/>
<line x1="234.90" y1="373.20" x2="234.90" y2="375.20" stroke="#2a2a2a" stroke-width="0.75" stroke-linecap="butt"/>
<line x1="241.27" y1="373.20" x2="241.27" y2="375.20" stroke="#2a2a2a" stroke-width="0.75" stroke-linecap="butt"/>
<line x1="245.78" y1="373.20" x2="245.78" y2="375.20" stroke="#2a2a2a" stroke-width="0.75" stroke-linecap="butt"/>
<line x1="249.28" y1="373.20" x2="249.28" y2="375.20" stroke="#2a2a2a" stroke-width="0.75" stroke-linecap="butt"/>
<line x1="252.14" y1="373.20" x2="252.14" y2="375.20" stroke="#2a2a2a" stroke-width="0.75" stroke-linecap="butt"/>
<line x1="254.56" y1="373.20" x2="254.56" y2="375.20" stroke="#2a2a2a" stroke-width="0.75" stroke-linecap="butt"/>
<line x1="256.65" y1="373.20" x2="256.65" y2="375.20" stroke="#2a2a2a" stroke-width="0.75" stroke-linecap="butt"/>
<line x1="258.50" y1="373.20" x2="258.50" y2="375.20" stroke="#2a2a2a" stroke-width="0.75" stroke-linecap="butt"/>
<text x="224.03" y="383.70" font-size="5.2" text-anchor="middle" fill="#222">10<tspan font-size="3.5" dy="-2">2</tspan></text>
<line x1="260.16" y1="373.20" x2="260.16" y2="376.40" stroke="#2a2a2a" stroke-width="0.75" stroke-linecap="butt"/>
<line x1="271.03" y1="373.20" x2="271.03" y2="375.20" stroke="#2a2a2a" stroke-width="0.75" stroke-linecap="butt"/>
<line x1="277.39" y1="373.20" x2="277.39" y2="375.20" stroke="#2a2a2a" stroke-width="0.75" stroke-linecap="butt"/>
<line x1="281.90" y1="373.20" x2="281.90" y2="375.20" stroke="#2a2a2a" stroke-width="0.75" stroke-linecap="butt"/>
<line x1="285.41" y1="373.20" x2="285.41" y2="375.20" stroke="#2a2a2a" stroke-width="0.75" stroke-linecap="butt"/>
<line x1="288.27" y1="373.20" x2="288.27" y2="375.20" stroke="#2a2a2a" stroke-width="0.75" stroke-linecap="butt"/>
<line x1="290.68" y1="373.20" x2="290.68" y2="375.20" stroke="#2a2a2a" stroke-width="0.75" stroke-linecap="butt"/>
<line x1="292.78" y1="373.20" x2="292.78" y2="375.20" stroke="#2a2a2a" stroke-width="0.75" stroke-linecap="butt"/>
<line x1="294.63" y1="373.20" x2="294.63" y2="375.20" stroke="#2a2a2a" stroke-width="0.75" stroke-linecap="butt"/>
<text x="260.16" y="383.70" font-size="5.2" text-anchor="middle" fill="#222">10<tspan font-size="3.5" dy="-2">3</tspan></text>
<line x1="296.28" y1="373.20" x2="296.28" y2="376.40" stroke="#2a2a2a" stroke-width="0.75" stroke-linecap="butt"/>
<line x1="307.15" y1="373.20" x2="307.15" y2="375.20" stroke="#2a2a2a" stroke-width="0.75" stroke-linecap="butt"/>
<line x1="313.52" y1="373.20" x2="313.52" y2="375.20" stroke="#2a2a2a" stroke-width="0.75" stroke-linecap="butt"/>
<line x1="318.03" y1="373.20" x2="318.03" y2="375.20" stroke="#2a2a2a" stroke-width="0.75" stroke-linecap="butt"/>
<line x1="321.53" y1="373.20" x2="321.53" y2="375.20" stroke="#2a2a2a" stroke-width="0.75" stroke-linecap="butt"/>
<line x1="324.39" y1="373.20" x2="324.39" y2="375.20" stroke="#2a2a2a" stroke-width="0.75" stroke-linecap="butt"/>
<line x1="326.81" y1="373.20" x2="326.81" y2="375.20" stroke="#2a2a2a" stroke-width="0.75" stroke-linecap="butt"/>
<line x1="328.90" y1="373.20" x2="328.90" y2="375.20" stroke="#2a2a2a" stroke-width="0.75" stroke-linecap="butt"/>
<line x1="330.75" y1="373.20" x2="330.75" y2="375.20" stroke="#2a2a2a" stroke-width="0.75" stroke-linecap="butt"/>
<text x="296.28" y="383.70" font-size="5.2" text-anchor="middle" fill="#222">10<tspan font-size="3.5" dy="-2">4</tspan></text>
<line x1="332.40" y1="373.20" x2="332.40" y2="376.40" stroke="#2a2a2a" stroke-width="0.75" stroke-linecap="butt"/>
<line x1="343.28" y1="373.20" x2="343.28" y2="375.20" stroke="#2a2a2a" stroke-width="0.75" stroke-linecap="butt"/>
<text x="332.40" y="383.70" font-size="5.2" text-anchor="middle" fill="#222">10<tspan font-size="3.5" dy="-2">5</tspan></text>
<line x1="200.30" y1="373.20" x2="203.80" y2="373.20" stroke="#2a2a2a" stroke-width="0.65" stroke-linecap="butt"/>
<line x1="201.40" y1="370.44" x2="203.80" y2="370.44" stroke="#2a2a2a" stroke-width="0.65" stroke-linecap="butt"/>
<line x1="201.40" y1="367.68" x2="203.80" y2="367.68" stroke="#2a2a2a" stroke-width="0.65" stroke-linecap="butt"/>
<line x1="201.40" y1="364.92" x2="203.80" y2="364.92" stroke="#2a2a2a" stroke-width="0.65" stroke-linecap="butt"/>
<line x1="201.40" y1="362.16" x2="203.80" y2="362.16" stroke="#2a2a2a" stroke-width="0.65" stroke-linecap="butt"/>
<line x1="200.30" y1="359.40" x2="203.80" y2="359.40" stroke="#2a2a2a" stroke-width="0.65" stroke-linecap="butt"/>
<line x1="201.40" y1="356.64" x2="203.80" y2="356.64" stroke="#2a2a2a" stroke-width="0.65" stroke-linecap="butt"/>
<line x1="201.40" y1="353.88" x2="203.80" y2="353.88" stroke="#2a2a2a" stroke-width="0.65" stroke-linecap="butt"/>
<line x1="201.40" y1="351.12" x2="203.80" y2="351.12" stroke="#2a2a2a" stroke-width="0.65" stroke-linecap="butt"/>
<line x1="201.40" y1="348.36" x2="203.80" y2="348.36" stroke="#2a2a2a" stroke-width="0.65" stroke-linecap="butt"/>
<line x1="200.30" y1="345.60" x2="203.80" y2="345.60" stroke="#2a2a2a" stroke-width="0.65" stroke-linecap="butt"/>
<line x1="201.40" y1="342.84" x2="203.80" y2="342.84" stroke="#2a2a2a" stroke-width="0.65" stroke-linecap="butt"/>
<line x1="201.40" y1="340.08" x2="203.80" y2="340.08" stroke="#2a2a2a" stroke-width="0.65" stroke-linecap="butt"/>
<line x1="201.40" y1="337.32" x2="203.80" y2="337.32" stroke="#2a2a2a" stroke-width="0.65" stroke-linecap="butt"/>
<line x1="201.40" y1="334.56" x2="203.80" y2="334.56" stroke="#2a2a2a" stroke-width="0.65" stroke-linecap="butt"/>
<line x1="200.30" y1="331.80" x2="203.80" y2="331.80" stroke="#2a2a2a" stroke-width="0.65" stroke-linecap="butt"/>
<line x1="201.40" y1="329.04" x2="203.80" y2="329.04" stroke="#2a2a2a" stroke-width="0.65" stroke-linecap="butt"/>
<line x1="201.40" y1="326.27" x2="203.80" y2="326.27" stroke="#2a2a2a" stroke-width="0.65" stroke-linecap="butt"/>
<line x1="201.40" y1="323.51" x2="203.80" y2="323.51" stroke="#2a2a2a" stroke-width="0.65" stroke-linecap="butt"/>
<line x1="201.40" y1="320.75" x2="203.80" y2="320.75" stroke="#2a2a2a" stroke-width="0.65" stroke-linecap="butt"/>
<line x1="200.30" y1="317.99" x2="203.80" y2="317.99" stroke="#2a2a2a" stroke-width="0.65" stroke-linecap="butt"/>
<line x1="201.40" y1="315.23" x2="203.80" y2="315.23" stroke="#2a2a2a" stroke-width="0.65" stroke-linecap="butt"/>
<line x1="201.40" y1="312.47" x2="203.80" y2="312.47" stroke="#2a2a2a" stroke-width="0.65" stroke-linecap="butt"/>
<line x1="201.40" y1="309.71" x2="203.80" y2="309.71" stroke="#2a2a2a" stroke-width="0.65" stroke-linecap="butt"/>
<line x1="201.40" y1="306.95" x2="203.80" y2="306.95" stroke="#2a2a2a" stroke-width="0.65" stroke-linecap="butt"/>
<line x1="200.30" y1="304.19" x2="203.80" y2="304.19" stroke="#2a2a2a" stroke-width="0.65" stroke-linecap="butt"/>
<line x1="201.40" y1="301.43" x2="203.80" y2="301.43" stroke="#2a2a2a" stroke-width="0.65" stroke-linecap="butt"/>
<line x1="201.40" y1="298.67" x2="203.80" y2="298.67" stroke="#2a2a2a" stroke-width="0.65" stroke-linecap="butt"/>
<line x1="201.40" y1="295.91" x2="203.80" y2="295.91" stroke="#2a2a2a" stroke-width="0.65" stroke-linecap="butt"/>
<line x1="201.40" y1="293.15" x2="203.80" y2="293.15" stroke="#2a2a2a" stroke-width="0.65" stroke-linecap="butt"/>
<text transform="translate(199.50,373.20) rotate(-90)" font-size="4.8" text-anchor="middle" fill="#333">0</text>
<text transform="translate(199.50,359.40) rotate(-90)" font-size="4.8" text-anchor="middle" fill="#333">25</text>
<text transform="translate(199.50,345.60) rotate(-90)" font-size="4.8" text-anchor="middle" fill="#333">50</text>
<text transform="translate(199.50,331.80) rotate(-90)" font-size="4.8" text-anchor="middle" fill="#333">75</text>
<text transform="translate(199.50,317.99) rotate(-90)" font-size="4.8" text-anchor="middle" fill="#333">100</text>
<text transform="translate(199.50,304.19) rotate(-90)" font-size="4.8" text-anchor="middle" fill="#333">125</text>
<text transform="translate(193.70,333.25) rotate(-90)" font-size="6.3" text-anchor="middle" fill="#222">Count</text>
<polygon points="381.80,375.00 381.80,373.20 382.20,366.00 382.30,367.80 382.80,375.00 383.30,375.00 383.80,375.00 384.30,375.00 384.80,375.00 385.30,375.00 385.80,375.00 386.30,375.00 386.80,375.00 387.30,375.00 387.80,375.00 388.30,375.00 388.80,375.00 389.30,375.00 389.80,375.00 390.30,375.00 390.80,375.00 391.30,375.00 391.80,375.00 392.30,375.00 392.80,375.00 393.30,375.00 393.80,375.00 394.30,375.00 394.80,375.00 395.30,375.00 395.80,375.00 396.30,375.00 396.80,375.00 397.30,375.00 397.80,375.00 398.30,375.00 398.80,375.00 399.30,375.00 399.80,375.00 400.30,375.00 400.80,375.00 401.30,375.00 401.80,375.00 402.30,375.00 402.80,375.00 403.30,375.00 403.80,375.00 404.30,375.00 404.80,375.00 405.30,375.00 405.80,375.00 406.30,375.00 406.80,375.00 407.30,375.00 407.80,375.00 408.30,375.00 408.80,375.00 409.30,375.00 409.80,375.00 410.30,375.00 410.80,375.00 411.30,375.00 411.80,375.00 412.30,375.00 412.80,375.00 413.30,375.00 413.80,375.00 414.30,375.00 414.80,375.00 415.30,375.00 415.80,375.00 416.30,375.00 416.80,375.00 417.30,375.00 417.80,375.00 418.30,375.00 418.80,375.00 419.30,375.00 419.80,375.00 420.30,375.00 420.80,375.00 421.30,375.00 421.80,375.00 422.30,375.00 422.80,375.00 423.30,375.00 423.80,375.00 424.30,375.00 424.80,375.00 425.30,375.00 425.80,375.00 426.30,375.00 426.80,375.00 427.30,375.00 427.80,375.00 428.30,375.00 428.80,375.00 429.30,375.00 429.80,375.00 430.30,375.00 430.80,375.00 431.30,375.00 431.80,375.00 432.30,375.00 432.80,375.00 433.30,375.00 433.80,375.00 434.30,375.00 434.80,375.00 435.30,375.00 435.80,375.00 436.30,375.00 436.80,375.00 437.30,375.00 437.80,375.00 438.30,375.00 438.80,375.00 439.30,375.00 439.80,375.00 440.30,374.96 440.80,374.88 441.30,374.81 441.80,374.74 442.30,374.67 442.80,374.59 443.30,374.06 443.80,372.96 444.30,374.52 444.80,373.73 445.30,374.12 445.80,372.83 446.30,373.52 446.80,372.96 447.30,374.78 447.80,374.02 448.30,374.44 448.80,372.52 449.30,373.10 449.80,373.79 450.30,373.83 450.80,372.97 451.30,373.86 451.80,373.97 452.30,372.70 452.80,370.93 453.30,373.14 453.80,373.32 454.30,373.76 454.80,373.82 455.30,372.12 455.80,371.74 456.30,372.39 456.80,372.01 457.30,372.12 457.80,372.01 458.30,373.43 458.80,372.37 459.30,371.77 459.80,372.50 460.30,372.13 460.80,372.36 461.30,371.83 461.80,370.63 462.30,371.72 462.80,371.40 463.30,370.35 463.80,370.30 464.30,369.08 464.80,372.56 465.30,369.48 465.80,370.60 466.30,369.79 466.80,368.87 467.30,368.42 467.80,368.25 468.30,368.96 468.80,367.24 469.30,369.02 469.80,368.67 470.30,367.47 470.80,368.71 471.30,365.59 471.80,366.62 472.30,365.02 472.80,366.93 473.30,366.83 473.80,365.71 474.30,364.55 474.80,365.59 475.30,363.95 475.80,363.92 476.30,361.44 476.80,363.71 477.30,361.10 477.80,362.36 478.30,361.70 478.80,360.30 479.30,359.87 479.80,356.99 480.30,354.67 480.80,354.78 481.30,353.03 481.80,350.47 482.30,351.34 482.80,350.35 483.30,349.96 483.80,350.91 484.30,346.16 484.80,349.00 485.30,344.10 485.80,344.06 486.30,341.11 486.80,341.53 487.30,341.00 487.80,337.21 488.30,336.99 488.80,334.54 489.30,332.35 489.80,330.86 490.30,329.27 490.80,328.84 491.30,326.03 491.80,328.11 492.30,322.73 492.80,323.12 493.30,316.98 493.80,315.04 494.30,319.84 494.80,314.04 495.30,312.98 495.80,313.26 496.30,308.40 496.80,308.85 497.30,309.75 497.80,303.68 498.30,300.53 498.80,297.06 499.30,297.14 499.80,290.90 500.30,290.90 500.80,293.50 501.30,292.40 501.80,291.08 502.30,292.19 502.80,290.90 503.30,290.90 503.80,293.19 504.30,292.69 504.80,291.03 505.30,290.90 505.80,294.54 506.30,297.10 506.80,299.51 507.30,303.95 507.80,302.31 508.30,311.58 508.80,312.45 509.30,317.11 509.80,319.70 510.30,325.64 510.80,322.59 511.30,328.62 511.80,330.84 512.30,335.06 512.80,337.17 513.30,337.44 513.80,338.69 514.30,340.90 514.80,341.99 515.30,344.61 515.80,347.50 516.30,348.07 516.80,350.26 517.30,353.09 517.80,353.71 518.30,354.27 518.80,356.92 519.30,358.90 519.80,358.68 520.30,358.37 520.80,362.26 521.30,363.30 521.80,364.54 522.30,364.15 522.80,368.34 523.30,366.44 523.80,366.13 524.30,368.89 524.80,367.03 525.30,368.63 525.80,370.32 526.30,370.15 526.80,372.40 527.30,372.04 527.80,370.45 528.30,373.02 528.80,370.70 529.30,372.52 529.80,375.00 530.30,367.33 530.80,329.00 530.80,329.00 531.30,367.33 531.60,375.00" fill="#6a6cf6" stroke="none"/>
<polyline points="381.80,373.20 382.20,366.00 382.30,367.80 382.80,375.00" fill="none" stroke="#2c2ce2" stroke-width="0.75" stroke-linejoin="round"/>
<polyline points="442.30,374.67 442.80,374.59 443.30,374.06 443.80,372.96 444.30,374.52 444.80,373.73 445.30,374.12 445.80,372.83 446.30,373.52 446.80,372.96 447.30,374.78 447.80,374.02 448.30,374.44 448.80,372.52 449.30,373.10 449.80,373.79 450.30,373.83 450.80,372.97 451.30,373.86 451.80,373.97 452.30,372.70 452.80,370.93 453.30,373.14 453.80,373.32 454.30,373.76 454.80,373.82 455.30,372.12 455.80,371.74 456.30,372.39 456.80,372.01 457.30,372.12 457.80,372.01 458.30,373.43 458.80,372.37 459.30,371.77 459.80,372.50 460.30,372.13 460.80,372.36 461.30,371.83 461.80,370.63 462.30,371.72 462.80,371.40 463.30,370.35 463.80,370.30 464.30,369.08 464.80,372.56 465.30,369.48 465.80,370.60 466.30,369.79 466.80,368.87 467.30,368.42 467.80,368.25 468.30,368.96 468.80,367.24 469.30,369.02 469.80,368.67 470.30,367.47 470.80,368.71 471.30,365.59 471.80,366.62 472.30,365.02 472.80,366.93 473.30,366.83 473.80,365.71 474.30,364.55 474.80,365.59 475.30,363.95 475.80,363.92 476.30,361.44 476.80,363.71 477.30,361.10 477.80,362.36 478.30,361.70 478.80,360.30 479.30,359.87 479.80,356.99 480.30,354.67 480.80,354.78 481.30,353.03 481.80,350.47 482.30,351.34 482.80,350.35 483.30,349.96 483.80,350.91 484.30,346.16 484.80,349.00 485.30,344.10 485.80,344.06 486.30,341.11 486.80,341.53 487.30,341.00 487.80,337.21 488.30,336.99 488.80,334.54 489.30,332.35 489.80,330.86 490.30,329.27 490.80,328.84 491.30,326.03 491.80,328.11 492.30,322.73 492.80,323.12 493.30,316.98 493.80,315.04 494.30,319.84 494.80,314.04 495.30,312.98 495.80,313.26 496.30,308.40 496.80,308.85 497.30,309.75 497.80,303.68 498.30,300.53 498.80,297.06 499.30,297.14 499.80,290.90 500.30,290.90 500.80,293.50 501.30,292.40 501.80,291.08 502.30,292.19 502.80,290.90 503.30,290.90 503.80,293.19 504.30,292.69 504.80,291.03 505.30,290.90 505.80,294.54 506.30,297.10 506.80,299.51 507.30,303.95 507.80,302.31 508.30,311.58 508.80,312.45 509.30,317.11 509.80,319.70 510.30,325.64 510.80,322.59 511.30,328.62 511.80,330.84 512.30,335.06 512.80,337.17 513.30,337.44 513.80,338.69 514.30,340.90 514.80,341.99 515.30,344.61 515.80,347.50 516.30,348.07 516.80,350.26 517.30,353.09 517.80,353.71 518.30,354.27 518.80,356.92 519.30,358.90 519.80,358.68 520.30,358.37 520.80,362.26 521.30,363.30 521.80,364.54 522.30,364.15 522.80,368.34 523.30,366.44 523.80,366.13 524.30,368.89 524.80,367.03 525.30,368.63 525.80,370.32 526.30,370.15 526.80,372.40 527.30,372.04 527.80,370.45 528.30,373.02 528.80,370.70 529.30,372.52 529.80,375.00 530.30,367.33 530.80,329.00 530.80,329.00 531.30,367.33" fill="none" stroke="#2c2ce2" stroke-width="0.75" stroke-linejoin="round"/>
<rect x="381.50" y="290.90" width="150.40" height="84.10" fill="none" stroke="#5a5a5a" stroke-width="1.1"/>
<line x1="421.50" y1="290.90" x2="421.50" y2="375.00" stroke="#686868" stroke-width="1.1" stroke-linecap="butt"/>
<line x1="421.50" y1="355.10" x2="531.90" y2="355.10" stroke="#3a3a3a" stroke-width="1.1" stroke-linecap="butt"/>
<text x="476.70" y="304.40" font-size="6.3" text-anchor="middle" font-weight="normal" fill="#333" >ROS</text>
<text x="463.00" y="281.50" font-size="9.7" text-anchor="middle" font-weight="normal" fill="#111" stroke="#111" stroke-width="0.25">Ctrl</text>
<text x="444.80" y="350.80" font-size="8.4" text-anchor="start" font-weight="normal" fill="#111" stroke="#111" stroke-width="0.2">5730</text>
<line x1="382.90" y1="375.00" x2="382.90" y2="377.00" stroke="#2a2a2a" stroke-width="0.75" stroke-linecap="butt"/>
<line x1="387.59" y1="375.00" x2="387.59" y2="377.00" stroke="#2a2a2a" stroke-width="0.75" stroke-linecap="butt"/>
<line x1="391.24" y1="375.00" x2="391.24" y2="377.00" stroke="#2a2a2a" stroke-width="0.75" stroke-linecap="butt"/>
<line x1="394.21" y1="375.00" x2="394.21" y2="377.00" stroke="#2a2a2a" stroke-width="0.75" stroke-linecap="butt"/>
<line x1="396.73" y1="375.00" x2="396.73" y2="377.00" stroke="#2a2a2a" stroke-width="0.75" stroke-linecap="butt"/>
<line x1="398.91" y1="375.00" x2="398.91" y2="377.00" stroke="#2a2a2a" stroke-width="0.75" stroke-linecap="butt"/>
<line x1="400.84" y1="375.00" x2="400.84" y2="377.00" stroke="#2a2a2a" stroke-width="0.75" stroke-linecap="butt"/>
<line x1="402.56" y1="375.00" x2="402.56" y2="378.20" stroke="#2a2a2a" stroke-width="0.75" stroke-linecap="butt"/>
<line x1="413.87" y1="375.00" x2="413.87" y2="377.00" stroke="#2a2a2a" stroke-width="0.75" stroke-linecap="butt"/>
<line x1="420.50" y1="375.00" x2="420.50" y2="377.00" stroke="#2a2a2a" stroke-width="0.75" stroke-linecap="butt"/>
<line x1="425.19" y1="375.00" x2="425.19" y2="377.00" stroke="#2a2a2a" stroke-width="0.75" stroke-linecap="butt"/>
<line x1="428.84" y1="375.00" x2="428.84" y2="377.00" stroke="#2a2a2a" stroke-width="0.75" stroke-linecap="butt"/>
<line x1="431.81" y1="375.00" x2="431.81" y2="377.00" stroke="#2a2a2a" stroke-width="0.75" stroke-linecap="butt"/>
<line x1="434.33" y1="375.00" x2="434.33" y2="377.00" stroke="#2a2a2a" stroke-width="0.75" stroke-linecap="butt"/>
<line x1="436.51" y1="375.00" x2="436.51" y2="377.00" stroke="#2a2a2a" stroke-width="0.75" stroke-linecap="butt"/>
<line x1="438.44" y1="375.00" x2="438.44" y2="377.00" stroke="#2a2a2a" stroke-width="0.75" stroke-linecap="butt"/>
<text x="402.56" y="385.50" font-size="5.2" text-anchor="middle" fill="#222">10<tspan font-size="3.5" dy="-2">2</tspan></text>
<line x1="440.16" y1="375.00" x2="440.16" y2="378.20" stroke="#2a2a2a" stroke-width="0.75" stroke-linecap="butt"/>
<line x1="451.47" y1="375.00" x2="451.47" y2="377.00" stroke="#2a2a2a" stroke-width="0.75" stroke-linecap="butt"/>
<line x1="458.10" y1="375.00" x2="458.10" y2="377.00" stroke="#2a2a2a" stroke-width="0.75" stroke-linecap="butt"/>
<line x1="462.79" y1="375.00" x2="462.79" y2="377.00" stroke="#2a2a2a" stroke-width="0.75" stroke-linecap="butt"/>
<line x1="466.44" y1="375.00" x2="466.44" y2="377.00" stroke="#2a2a2a" stroke-width="0.75" stroke-linecap="butt"/>
<line x1="469.41" y1="375.00" x2="469.41" y2="377.00" stroke="#2a2a2a" stroke-width="0.75" stroke-linecap="butt"/>
<line x1="471.93" y1="375.00" x2="471.93" y2="377.00" stroke="#2a2a2a" stroke-width="0.75" stroke-linecap="butt"/>
<line x1="474.11" y1="375.00" x2="474.11" y2="377.00" stroke="#2a2a2a" stroke-width="0.75" stroke-linecap="butt"/>
<line x1="476.04" y1="375.00" x2="476.04" y2="377.00" stroke="#2a2a2a" stroke-width="0.75" stroke-linecap="butt"/>
<text x="440.16" y="385.50" font-size="5.2" text-anchor="middle" fill="#222">10<tspan font-size="3.5" dy="-2">3</tspan></text>
<line x1="477.76" y1="375.00" x2="477.76" y2="378.20" stroke="#2a2a2a" stroke-width="0.75" stroke-linecap="butt"/>
<line x1="489.07" y1="375.00" x2="489.07" y2="377.00" stroke="#2a2a2a" stroke-width="0.75" stroke-linecap="butt"/>
<line x1="495.70" y1="375.00" x2="495.70" y2="377.00" stroke="#2a2a2a" stroke-width="0.75" stroke-linecap="butt"/>
<line x1="500.39" y1="375.00" x2="500.39" y2="377.00" stroke="#2a2a2a" stroke-width="0.75" stroke-linecap="butt"/>
<line x1="504.04" y1="375.00" x2="504.04" y2="377.00" stroke="#2a2a2a" stroke-width="0.75" stroke-linecap="butt"/>
<line x1="507.01" y1="375.00" x2="507.01" y2="377.00" stroke="#2a2a2a" stroke-width="0.75" stroke-linecap="butt"/>
<line x1="509.53" y1="375.00" x2="509.53" y2="377.00" stroke="#2a2a2a" stroke-width="0.75" stroke-linecap="butt"/>
<line x1="511.71" y1="375.00" x2="511.71" y2="377.00" stroke="#2a2a2a" stroke-width="0.75" stroke-linecap="butt"/>
<line x1="513.64" y1="375.00" x2="513.64" y2="377.00" stroke="#2a2a2a" stroke-width="0.75" stroke-linecap="butt"/>
<text x="477.76" y="385.50" font-size="5.2" text-anchor="middle" fill="#222">10<tspan font-size="3.5" dy="-2">4</tspan></text>
<line x1="515.36" y1="375.00" x2="515.36" y2="378.20" stroke="#2a2a2a" stroke-width="0.75" stroke-linecap="butt"/>
<line x1="526.67" y1="375.00" x2="526.67" y2="377.00" stroke="#2a2a2a" stroke-width="0.75" stroke-linecap="butt"/>
<text x="515.36" y="385.50" font-size="5.2" text-anchor="middle" fill="#222">10<tspan font-size="3.5" dy="-2">5</tspan></text>
<line x1="378.00" y1="375.00" x2="381.50" y2="375.00" stroke="#2a2a2a" stroke-width="0.65" stroke-linecap="butt"/>
<line x1="379.10" y1="371.33" x2="381.50" y2="371.33" stroke="#2a2a2a" stroke-width="0.65" stroke-linecap="butt"/>
<line x1="379.10" y1="367.67" x2="381.50" y2="367.67" stroke="#2a2a2a" stroke-width="0.65" stroke-linecap="butt"/>
<line x1="379.10" y1="364.00" x2="381.50" y2="364.00" stroke="#2a2a2a" stroke-width="0.65" stroke-linecap="butt"/>
<line x1="379.10" y1="360.33" x2="381.50" y2="360.33" stroke="#2a2a2a" stroke-width="0.65" stroke-linecap="butt"/>
<line x1="378.00" y1="356.67" x2="381.50" y2="356.67" stroke="#2a2a2a" stroke-width="0.65" stroke-linecap="butt"/>
<line x1="379.10" y1="353.00" x2="381.50" y2="353.00" stroke="#2a2a2a" stroke-width="0.65" stroke-linecap="butt"/>
<line x1="379.10" y1="349.33" x2="381.50" y2="349.33" stroke="#2a2a2a" stroke-width="0.65" stroke-linecap="butt"/>
<line x1="379.10" y1="345.67" x2="381.50" y2="345.67" stroke="#2a2a2a" stroke-width="0.65" stroke-linecap="butt"/>
<line x1="379.10" y1="342.00" x2="381.50" y2="342.00" stroke="#2a2a2a" stroke-width="0.65" stroke-linecap="butt"/>
<line x1="378.00" y1="338.33" x2="381.50" y2="338.33" stroke="#2a2a2a" stroke-width="0.65" stroke-linecap="butt"/>
<line x1="379.10" y1="334.67" x2="381.50" y2="334.67" stroke="#2a2a2a" stroke-width="0.65" stroke-linecap="butt"/>
<line x1="379.10" y1="331.00" x2="381.50" y2="331.00" stroke="#2a2a2a" stroke-width="0.65" stroke-linecap="butt"/>
<line x1="379.10" y1="327.33" x2="381.50" y2="327.33" stroke="#2a2a2a" stroke-width="0.65" stroke-linecap="butt"/>
<line x1="379.10" y1="323.67" x2="381.50" y2="323.67" stroke="#2a2a2a" stroke-width="0.65" stroke-linecap="butt"/>
<line x1="378.00" y1="320.00" x2="381.50" y2="320.00" stroke="#2a2a2a" stroke-width="0.65" stroke-linecap="butt"/>
<line x1="379.10" y1="316.33" x2="381.50" y2="316.33" stroke="#2a2a2a" stroke-width="0.65" stroke-linecap="butt"/>
<line x1="379.10" y1="312.67" x2="381.50" y2="312.67" stroke="#2a2a2a" stroke-width="0.65" stroke-linecap="butt"/>
<line x1="379.10" y1="309.00" x2="381.50" y2="309.00" stroke="#2a2a2a" stroke-width="0.65" stroke-linecap="butt"/>
<line x1="379.10" y1="305.33" x2="381.50" y2="305.33" stroke="#2a2a2a" stroke-width="0.65" stroke-linecap="butt"/>
<line x1="378.00" y1="301.66" x2="381.50" y2="301.66" stroke="#2a2a2a" stroke-width="0.65" stroke-linecap="butt"/>
<line x1="379.10" y1="298.00" x2="381.50" y2="298.00" stroke="#2a2a2a" stroke-width="0.65" stroke-linecap="butt"/>
<line x1="379.10" y1="294.33" x2="381.50" y2="294.33" stroke="#2a2a2a" stroke-width="0.65" stroke-linecap="butt"/>
<text transform="translate(377.20,375.00) rotate(-90)" font-size="4.8" text-anchor="middle" fill="#333">0</text>
<text transform="translate(377.20,356.67) rotate(-90)" font-size="4.8" text-anchor="middle" fill="#333">50</text>
<text transform="translate(377.20,338.33) rotate(-90)" font-size="4.8" text-anchor="middle" fill="#333">100</text>
<text transform="translate(377.20,320.00) rotate(-90)" font-size="4.8" text-anchor="middle" fill="#333">150</text>
<text transform="translate(377.20,301.66) rotate(-90)" font-size="4.8" text-anchor="middle" fill="#333">200</text>
<text transform="translate(371.40,333.45) rotate(-90)" font-size="6.3" text-anchor="middle" fill="#222">Count</text>
<circle cx="505.4" cy="342.7" r="0.9" fill="#dfe0ff"/>
<polygon points="31.50,501.20 31.50,492.24 31.60,490.00 32.00,498.96 32.50,498.46 33.00,499.16 33.50,500.76 34.00,499.61 34.50,500.04 35.00,499.50 35.50,500.73 36.00,499.43 36.50,499.44 37.00,498.50 37.50,499.37 38.00,499.24 38.50,500.64 39.00,498.01 39.50,500.93 40.00,498.81 40.50,499.81 41.00,500.20 41.50,500.04 42.00,500.05 42.50,499.31 43.00,499.65 43.50,498.53 44.00,500.85 44.50,499.57 45.00,500.19 45.50,499.02 46.00,501.05 46.50,499.80 47.00,499.41 47.50,500.60 48.00,498.86 48.50,499.42 49.00,498.84 49.50,498.87 50.00,500.23 50.50,500.10 51.00,499.68 51.50,499.01 52.00,498.93 52.50,500.03 53.00,499.96 53.50,500.09 54.00,499.94 54.50,499.69 55.00,499.61 55.50,498.07 56.00,499.87 56.50,499.72 57.00,499.19 57.50,500.18 58.00,499.77 58.50,499.50 59.00,498.96 59.50,500.43 60.00,498.53 60.50,499.75 61.00,499.37 61.50,498.89 62.00,499.02 62.50,498.74 63.00,499.36 63.50,499.50 64.00,499.26 64.50,500.18 65.00,498.62 65.50,500.02 66.00,500.36 66.50,498.02 67.00,499.57 67.50,500.30 68.00,498.15 68.50,499.59 69.00,498.47 69.50,499.73 70.00,499.19 70.50,500.14 71.00,500.21 71.50,499.40 72.00,498.61 72.50,497.83 73.00,496.46 73.50,499.01 74.00,497.31 74.50,498.46 75.00,497.99 75.50,498.93 76.00,498.83 76.50,497.79 77.00,497.41 77.50,495.65 78.00,495.53 78.50,493.00 79.00,493.26 79.50,492.49 80.00,490.58 80.50,489.94 81.00,489.27 81.50,488.10 82.00,486.89 82.50,484.31 83.00,483.38 83.50,482.31 84.00,478.99 84.50,477.90 85.00,473.76 85.50,473.60 86.00,467.01 86.50,465.77 87.00,462.63 87.50,458.99 88.00,456.92 88.50,454.31 89.00,448.66 89.50,446.91 90.00,445.17 90.50,439.33 91.00,440.16 91.50,431.17 92.00,431.50 92.50,428.56 93.00,422.52 93.20,422.30 93.50,422.30 94.00,426.52 94.50,426.03 95.00,425.63 95.50,424.99 96.00,428.98 96.50,429.65 97.00,428.82 97.50,431.74 98.00,432.03 98.50,433.47 99.00,439.20 99.50,441.67 100.00,447.68 100.50,446.57 101.00,446.90 101.50,453.70 102.00,452.44 102.50,455.34 103.00,459.48 103.50,461.91 104.00,464.28 104.50,468.13 105.00,469.76 105.50,471.76 106.00,473.22 106.50,475.34 107.00,479.63 107.50,480.03 108.00,482.83 108.50,482.60 109.00,482.46 109.50,483.43 110.00,484.05 110.50,484.09 111.00,485.53 111.50,486.14 112.00,486.13 112.50,485.06 113.00,486.41 113.50,484.35 114.00,486.40 114.50,490.08 115.00,487.45 115.50,485.31 116.00,487.29 116.50,487.94 117.00,488.58 117.50,486.37 118.00,486.20 118.50,486.06 119.00,485.82 119.50,484.18 120.00,484.37 120.50,486.21 121.00,483.41 121.50,483.60 122.00,483.43 122.50,481.90 123.00,482.33 123.50,485.66 124.00,480.09 124.50,480.51 125.00,481.71 125.50,481.81 126.00,480.89 126.50,482.52 127.00,480.39 127.50,481.04 128.00,481.99 128.50,483.46 129.00,483.96 129.50,482.68 130.00,483.23 130.50,484.99 131.00,486.41 131.50,488.12 132.00,487.18 132.50,486.99 133.00,491.15 133.50,489.01 134.00,493.15 134.50,492.06 135.00,492.11 135.50,494.53 136.00,495.39 136.50,494.58 137.00,494.73 137.50,496.32 138.00,494.95 138.50,496.95 139.00,494.99 139.50,496.56 140.00,496.65 140.50,496.53 141.00,496.96 141.50,495.92 142.00,495.83 142.50,497.35 143.00,498.10 143.50,499.07 144.00,498.93 144.50,498.50 145.00,498.64 145.50,498.66 146.00,498.67 146.50,498.36 147.00,499.80 147.50,499.61 148.00,498.07 148.50,498.34 149.00,499.40 149.50,498.12 150.00,499.61 150.50,499.36 151.00,500.55 151.50,498.68 152.00,499.35 152.50,498.64 153.00,498.95 153.50,499.44 154.00,499.45 154.50,498.78 155.00,499.79 155.50,499.83 156.00,499.73 156.50,499.29 157.00,499.26 157.50,498.65 158.00,500.05 158.50,499.21 159.00,500.54 159.50,499.76 160.00,500.13 160.50,499.14 161.00,500.04 161.50,500.89 162.00,500.82 162.50,501.01 163.00,501.20 163.50,501.20 164.00,501.20 164.50,501.20 165.00,501.20 165.50,501.20 166.00,501.20 166.50,501.20 167.00,501.20 167.50,501.20 168.00,501.20 168.50,501.20 169.00,501.20 169.50,501.20 170.00,501.20 170.50,501.20 171.00,501.20 171.50,501.20 172.00,501.20 172.00,501.20" fill="#6a6cf6" stroke="none"/>
<polyline points="31.50,492.24 31.60,490.00 32.00,498.96 32.50,498.46 33.00,499.16 33.50,500.76 34.00,499.61 34.50,500.04 35.00,499.50 35.50,500.73 36.00,499.43 36.50,499.44 37.00,498.50 37.50,499.37 38.00,499.24 38.50,500.64 39.00,498.01 39.50,500.93 40.00,498.81 40.50,499.81 41.00,500.20 41.50,500.04 42.00,500.05 42.50,499.31 43.00,499.65 43.50,498.53 44.00,500.85 44.50,499.57 45.00,500.19 45.50,499.02 46.00,501.05 46.50,499.80 47.00,499.41 47.50,500.60 48.00,498.86 48.50,499.42 49.00,498.84 49.50,498.87 50.00,500.23 50.50,500.10 51.00,499.68 51.50,499.01 52.00,498.93 52.50,500.03 53.00,499.96 53.50,500.09 54.00,499.94 54.50,499.69 55.00,499.61 55.50,498.07 56.00,499.87 56.50,499.72 57.00,499.19 57.50,500.18 58.00,499.77 58.50,499.50 59.00,498.96 59.50,500.43 60.00,498.53 60.50,499.75 61.00,499.37 61.50,498.89 62.00,499.02 62.50,498.74 63.00,499.36 63.50,499.50 64.00,499.26 64.50,500.18 65.00,498.62 65.50,500.02 66.00,500.36 66.50,498.02 67.00,499.57 67.50,500.30 68.00,498.15 68.50,499.59 69.00,498.47 69.50,499.73 70.00,499.19 70.50,500.14 71.00,500.21 71.50,499.40 72.00,498.61 72.50,497.83 73.00,496.46 73.50,499.01 74.00,497.31 74.50,498.46 75.00,497.99 75.50,498.93 76.00,498.83 76.50,497.79 77.00,497.41 77.50,495.65 78.00,495.53 78.50,493.00 79.00,493.26 79.50,492.49 80.00,490.58 80.50,489.94 81.00,489.27 81.50,488.10 82.00,486.89 82.50,484.31 83.00,483.38 83.50,482.31 84.00,478.99 84.50,477.90 85.00,473.76 85.50,473.60 86.00,467.01 86.50,465.77 87.00,462.63 87.50,458.99 88.00,456.92 88.50,454.31 89.00,448.66 89.50,446.91 90.00,445.17 90.50,439.33 91.00,440.16 91.50,431.17 92.00,431.50 92.50,428.56 93.00,422.52 93.20,422.30 93.50,422.30 94.00,426.52 94.50,426.03 95.00,425.63 95.50,424.99 96.00,428.98 96.50,429.65 97.00,428.82 97.50,431.74 98.00,432.03 98.50,433.47 99.00,439.20 99.50,441.67 100.00,447.68 100.50,446.57 101.00,446.90 101.50,453.70 102.00,452.44 102.50,455.34 103.00,459.48 103.50,461.91 104.00,464.28 104.50,468.13 105.00,469.76 105.50,471.76 106.00,473.22 106.50,475.34 107.00,479.63 107.50,480.03 108.00,482.83 108.50,482.60 109.00,482.46 109.50,483.43 110.00,484.05 110.50,484.09 111.00,485.53 111.50,486.14 112.00,486.13 112.50,485.06 113.00,486.41 113.50,484.35 114.00,486.40 114.50,490.08 115.00,487.45 115.50,485.31 116.00,487.29 116.50,487.94 117.00,488.58 117.50,486.37 118.00,486.20 118.50,486.06 119.00,485.82 119.50,484.18 120.00,484.37 120.50,486.21 121.00,483.41 121.50,483.60 122.00,483.43 122.50,481.90 123.00,482.33 123.50,485.66 124.00,480.09 124.50,480.51 125.00,481.71 125.50,481.81 126.00,480.89 126.50,482.52 127.00,480.39 127.50,481.04 128.00,481.99 128.50,483.46 129.00,483.96 129.50,482.68 130.00,483.23 130.50,484.99 131.00,486.41 131.50,488.12 132.00,487.18 132.50,486.99 133.00,491.15 133.50,489.01 134.00,493.15 134.50,492.06 135.00,492.11 135.50,494.53 136.00,495.39 136.50,494.58 137.00,494.73 137.50,496.32 138.00,494.95 138.50,496.95 139.00,494.99 139.50,496.56 140.00,496.65 140.50,496.53 141.00,496.96 141.50,495.92 142.00,495.83 142.50,497.35 143.00,498.10 143.50,499.07 144.00,498.93 144.50,498.50 145.00,498.64 145.50,498.66 146.00,498.67 146.50,498.36 147.00,499.80 147.50,499.61 148.00,498.07 148.50,498.34 149.00,499.40 149.50,498.12 150.00,499.61 150.50,499.36 151.00,500.55 151.50,498.68 152.00,499.35 152.50,498.64 153.00,498.95 153.50,499.44 154.00,499.45 154.50,498.78 155.00,499.79 155.50,499.83 156.00,499.73 156.50,499.29 157.00,499.26 157.50,498.65 158.00,500.05 158.50,499.21 159.00,500.54 159.50,499.76 160.00,500.13 160.50,499.14 161.00,500.04 161.50,500.89 162.00,500.82 162.50,501.01" fill="none" stroke="#2c2ce2" stroke-width="0.75" stroke-linejoin="round"/>
<rect x="31.20" y="422.30" width="141.10" height="78.90" fill="none" stroke="#5a5a5a" stroke-width="1.1"/>
<line x1="68.60" y1="422.30" x2="68.60" y2="501.20" stroke="#686868" stroke-width="1.1" stroke-linecap="butt"/>
<line x1="68.60" y1="449.20" x2="172.30" y2="449.20" stroke="#3a3a3a" stroke-width="1.1" stroke-linecap="butt"/>
<text x="120.45" y="435.80" font-size="6.3" text-anchor="middle" font-weight="normal" fill="#333" >ROS</text>
<text x="99.90" y="407.70" font-size="9.7" text-anchor="middle" font-weight="normal" fill="#111" stroke="#111" stroke-width="0.25">silybin</text>
<text x="138.10" y="461.00" font-size="8.4" text-anchor="start" font-weight="normal" fill="#111" stroke="#111" stroke-width="0.2">5 170</text>
<line x1="32.51" y1="501.20" x2="32.51" y2="503.20" stroke="#2a2a2a" stroke-width="0.75" stroke-linecap="butt"/>
<line x1="36.92" y1="501.20" x2="36.92" y2="503.20" stroke="#2a2a2a" stroke-width="0.75" stroke-linecap="butt"/>
<line x1="40.34" y1="501.20" x2="40.34" y2="503.20" stroke="#2a2a2a" stroke-width="0.75" stroke-linecap="butt"/>
<line x1="43.13" y1="501.20" x2="43.13" y2="503.20" stroke="#2a2a2a" stroke-width="0.75" stroke-linecap="butt"/>
<line x1="45.49" y1="501.20" x2="45.49" y2="503.20" stroke="#2a2a2a" stroke-width="0.75" stroke-linecap="butt"/>
<line x1="47.54" y1="501.20" x2="47.54" y2="503.20" stroke="#2a2a2a" stroke-width="0.75" stroke-linecap="butt"/>
<line x1="49.34" y1="501.20" x2="49.34" y2="503.20" stroke="#2a2a2a" stroke-width="0.75" stroke-linecap="butt"/>
<line x1="50.95" y1="501.20" x2="50.95" y2="504.40" stroke="#2a2a2a" stroke-width="0.75" stroke-linecap="butt"/>
<line x1="61.57" y1="501.20" x2="61.57" y2="503.20" stroke="#2a2a2a" stroke-width="0.75" stroke-linecap="butt"/>
<line x1="67.78" y1="501.20" x2="67.78" y2="503.20" stroke="#2a2a2a" stroke-width="0.75" stroke-linecap="butt"/>
<line x1="72.19" y1="501.20" x2="72.19" y2="503.20" stroke="#2a2a2a" stroke-width="0.75" stroke-linecap="butt"/>
<line x1="75.61" y1="501.20" x2="75.61" y2="503.20" stroke="#2a2a2a" stroke-width="0.75" stroke-linecap="butt"/>
<line x1="78.40" y1="501.20" x2="78.40" y2="503.20" stroke="#2a2a2a" stroke-width="0.75" stroke-linecap="butt"/>
<line x1="80.76" y1="501.20" x2="80.76" y2="503.20" stroke="#2a2a2a" stroke-width="0.75" stroke-linecap="butt"/>
<line x1="82.81" y1="501.20" x2="82.81" y2="503.20" stroke="#2a2a2a" stroke-width="0.75" stroke-linecap="butt"/>
<line x1="84.61" y1="501.20" x2="84.61" y2="503.20" stroke="#2a2a2a" stroke-width="0.75" stroke-linecap="butt"/>
<text x="50.95" y="511.70" font-size="5.2" text-anchor="middle" fill="#222">10<tspan font-size="3.5" dy="-2">2</tspan></text>
<line x1="86.23" y1="501.20" x2="86.23" y2="504.40" stroke="#2a2a2a" stroke-width="0.75" stroke-linecap="butt"/>
<line x1="96.85" y1="501.20" x2="96.85" y2="503.20" stroke="#2a2a2a" stroke-width="0.75" stroke-linecap="butt"/>
<line x1="103.06" y1="501.20" x2="103.06" y2="503.20" stroke="#2a2a2a" stroke-width="0.75" stroke-linecap="butt"/>
<line x1="107.47" y1="501.20" x2="107.47" y2="503.20" stroke="#2a2a2a" stroke-width="0.75" stroke-linecap="butt"/>
<line x1="110.89" y1="501.20" x2="110.89" y2="503.20" stroke="#2a2a2a" stroke-width="0.75" stroke-linecap="butt"/>
<line x1="113.68" y1="501.20" x2="113.68" y2="503.20" stroke="#2a2a2a" stroke-width="0.75" stroke-linecap="butt"/>
<line x1="116.04" y1="501.20" x2="116.04" y2="503.20" stroke="#2a2a2a" stroke-width="0.75" stroke-linecap="butt"/>
<line x1="118.09" y1="501.20" x2="118.09" y2="503.20" stroke="#2a2a2a" stroke-width="0.75" stroke-linecap="butt"/>
<line x1="119.89" y1="501.20" x2="119.89" y2="503.20" stroke="#2a2a2a" stroke-width="0.75" stroke-linecap="butt"/>
<text x="86.23" y="511.70" font-size="5.2" text-anchor="middle" fill="#222">10<tspan font-size="3.5" dy="-2">3</tspan></text>
<line x1="121.50" y1="501.20" x2="121.50" y2="504.40" stroke="#2a2a2a" stroke-width="0.75" stroke-linecap="butt"/>
<line x1="132.12" y1="501.20" x2="132.12" y2="503.20" stroke="#2a2a2a" stroke-width="0.75" stroke-linecap="butt"/>
<line x1="138.33" y1="501.20" x2="138.33" y2="503.20" stroke="#2a2a2a" stroke-width="0.75" stroke-linecap="butt"/>
<line x1="142.74" y1="501.20" x2="142.74" y2="503.20" stroke="#2a2a2a" stroke-width="0.75" stroke-linecap="butt"/>
<line x1="146.16" y1="501.20" x2="146.16" y2="503.20" stroke="#2a2a2a" stroke-width="0.75" stroke-linecap="butt"/>
<line x1="148.95" y1="501.20" x2="148.95" y2="503.20" stroke="#2a2a2a" stroke-width="0.75" stroke-linecap="butt"/>
<line x1="151.31" y1="501.20" x2="151.31" y2="503.20" stroke="#2a2a2a" stroke-width="0.75" stroke-linecap="butt"/>
<line x1="153.36" y1="501.20" x2="153.36" y2="503.20" stroke="#2a2a2a" stroke-width="0.75" stroke-linecap="butt"/>
<line x1="155.16" y1="501.20" x2="155.16" y2="503.20" stroke="#2a2a2a" stroke-width="0.75" stroke-linecap="butt"/>
<text x="121.50" y="511.70" font-size="5.2" text-anchor="middle" fill="#222">10<tspan font-size="3.5" dy="-2">4</tspan></text>
<line x1="156.78" y1="501.20" x2="156.78" y2="504.40" stroke="#2a2a2a" stroke-width="0.75" stroke-linecap="butt"/>
<line x1="167.40" y1="501.20" x2="167.40" y2="503.20" stroke="#2a2a2a" stroke-width="0.75" stroke-linecap="butt"/>
<text x="156.78" y="511.70" font-size="5.2" text-anchor="middle" fill="#222">10<tspan font-size="3.5" dy="-2">5</tspan></text>
<line x1="27.70" y1="501.20" x2="31.20" y2="501.20" stroke="#2a2a2a" stroke-width="0.65" stroke-linecap="butt"/>
<line x1="28.80" y1="498.34" x2="31.20" y2="498.34" stroke="#2a2a2a" stroke-width="0.65" stroke-linecap="butt"/>
<line x1="28.80" y1="495.49" x2="31.20" y2="495.49" stroke="#2a2a2a" stroke-width="0.65" stroke-linecap="butt"/>
<line x1="28.80" y1="492.63" x2="31.20" y2="492.63" stroke="#2a2a2a" stroke-width="0.65" stroke-linecap="butt"/>
<line x1="28.80" y1="489.78" x2="31.20" y2="489.78" stroke="#2a2a2a" stroke-width="0.65" stroke-linecap="butt"/>
<line x1="27.70" y1="486.92" x2="31.20" y2="486.92" stroke="#2a2a2a" stroke-width="0.65" stroke-linecap="butt"/>
<line x1="28.80" y1="484.06" x2="31.20" y2="484.06" stroke="#2a2a2a" stroke-width="0.65" stroke-linecap="butt"/>
<line x1="28.80" y1="481.21" x2="31.20" y2="481.21" stroke="#2a2a2a" stroke-width="0.65" stroke-linecap="butt"/>
<line x1="28.80" y1="478.35" x2="31.20" y2="478.35" stroke="#2a2a2a" stroke-width="0.65" stroke-linecap="butt"/>
<line x1="28.80" y1="475.49" x2="31.20" y2="475.49" stroke="#2a2a2a" stroke-width="0.65" stroke-linecap="butt"/>
<line x1="27.70" y1="472.64" x2="31.20" y2="472.64" stroke="#2a2a2a" stroke-width="0.65" stroke-linecap="butt"/>
<line x1="28.80" y1="469.78" x2="31.20" y2="469.78" stroke="#2a2a2a" stroke-width="0.65" stroke-linecap="butt"/>
<line x1="28.80" y1="466.93" x2="31.20" y2="466.93" stroke="#2a2a2a" stroke-width="0.65" stroke-linecap="butt"/>
<line x1="28.80" y1="464.07" x2="31.20" y2="464.07" stroke="#2a2a2a" stroke-width="0.65" stroke-linecap="butt"/>
<line x1="28.80" y1="461.21" x2="31.20" y2="461.21" stroke="#2a2a2a" stroke-width="0.65" stroke-linecap="butt"/>
<line x1="27.70" y1="458.36" x2="31.20" y2="458.36" stroke="#2a2a2a" stroke-width="0.65" stroke-linecap="butt"/>
<line x1="28.80" y1="455.50" x2="31.20" y2="455.50" stroke="#2a2a2a" stroke-width="0.65" stroke-linecap="butt"/>
<line x1="28.80" y1="452.64" x2="31.20" y2="452.64" stroke="#2a2a2a" stroke-width="0.65" stroke-linecap="butt"/>
<line x1="28.80" y1="449.79" x2="31.20" y2="449.79" stroke="#2a2a2a" stroke-width="0.65" stroke-linecap="butt"/>
<line x1="28.80" y1="446.93" x2="31.20" y2="446.93" stroke="#2a2a2a" stroke-width="0.65" stroke-linecap="butt"/>
<line x1="27.70" y1="444.08" x2="31.20" y2="444.08" stroke="#2a2a2a" stroke-width="0.65" stroke-linecap="butt"/>
<line x1="28.80" y1="441.22" x2="31.20" y2="441.22" stroke="#2a2a2a" stroke-width="0.65" stroke-linecap="butt"/>
<line x1="28.80" y1="438.36" x2="31.20" y2="438.36" stroke="#2a2a2a" stroke-width="0.65" stroke-linecap="butt"/>
<line x1="28.80" y1="435.51" x2="31.20" y2="435.51" stroke="#2a2a2a" stroke-width="0.65" stroke-linecap="butt"/>
<line x1="28.80" y1="432.65" x2="31.20" y2="432.65" stroke="#2a2a2a" stroke-width="0.65" stroke-linecap="butt"/>
<line x1="27.70" y1="429.80" x2="31.20" y2="429.80" stroke="#2a2a2a" stroke-width="0.65" stroke-linecap="butt"/>
<line x1="28.80" y1="426.94" x2="31.20" y2="426.94" stroke="#2a2a2a" stroke-width="0.65" stroke-linecap="butt"/>
<line x1="28.80" y1="424.08" x2="31.20" y2="424.08" stroke="#2a2a2a" stroke-width="0.65" stroke-linecap="butt"/>
<text transform="translate(26.90,501.20) rotate(-90)" font-size="4.8" text-anchor="middle" fill="#333">0</text>
<text transform="translate(26.90,486.92) rotate(-90)" font-size="4.8" text-anchor="middle" fill="#333">25</text>
<text transform="translate(26.90,472.64) rotate(-90)" font-size="4.8" text-anchor="middle" fill="#333">50</text>
<text transform="translate(26.90,458.36) rotate(-90)" font-size="4.8" text-anchor="middle" fill="#333">75</text>
<text transform="translate(26.90,444.08) rotate(-90)" font-size="4.8" text-anchor="middle" fill="#333">100</text>
<text transform="translate(26.90,429.80) rotate(-90)" font-size="4.8" text-anchor="middle" fill="#333">125</text>
<text transform="translate(21.10,462.25) rotate(-90)" font-size="6.3" text-anchor="middle" fill="#222">Count</text>
<polygon points="205.90,502.00 205.90,475.60 206.00,469.00 206.40,495.40 206.90,500.17 207.40,499.67 207.90,499.13 208.40,499.87 208.90,500.34 209.40,500.50 209.90,499.36 210.40,498.70 210.90,499.68 211.40,500.78 211.90,500.57 212.40,498.67 212.90,499.69 213.40,501.10 213.90,499.87 214.40,500.66 214.90,500.25 215.40,500.14 215.90,500.29 216.40,499.34 216.90,499.78 217.40,500.16 217.90,499.41 218.40,499.08 218.90,500.91 219.40,499.87 219.90,500.39 220.40,499.78 220.90,500.60 221.40,499.61 221.90,499.64 222.40,499.53 222.90,499.73 223.40,498.84 223.90,499.02 224.40,498.87 224.90,497.16 225.40,497.92 225.90,495.55 226.40,495.55 226.90,497.60 227.40,494.95 227.90,495.63 228.40,493.97 228.90,493.36 229.40,494.77 229.90,492.43 230.40,491.86 230.90,490.00 231.40,491.64 231.90,488.86 232.40,490.09 232.90,488.51 233.40,488.34 233.90,485.01 234.40,485.25 234.90,482.32 235.40,483.25 235.90,481.76 236.40,480.51 236.90,481.06 237.40,479.16 237.90,476.09 238.40,477.11 238.90,475.40 239.40,474.93 239.90,473.33 240.40,473.90 240.90,472.86 241.40,471.56 241.90,471.01 242.40,471.25 242.90,467.08 243.40,468.59 243.90,466.81 244.40,465.29 244.90,460.23 245.40,460.26 245.90,459.23 246.40,457.51 246.90,453.02 247.40,453.43 247.90,451.82 248.40,446.66 248.90,447.74 249.40,444.26 249.90,441.71 250.40,440.69 250.90,439.03 251.40,435.57 251.90,437.92 252.40,437.90 252.90,437.33 253.40,432.26 253.50,422.30 253.90,435.69 254.40,438.38 254.90,443.04 255.40,444.73 255.90,446.80 256.40,448.11 256.90,448.63 257.40,451.20 257.90,452.34 258.40,451.44 258.90,455.74 259.40,460.96 259.90,457.84 260.40,461.97 260.90,465.90 261.40,465.58 261.90,469.54 262.40,473.08 262.90,475.75 263.40,478.85 263.90,479.94 264.40,480.17 264.90,483.36 265.40,483.96 265.90,483.79 266.40,488.78 266.90,488.63 267.40,490.72 267.90,492.01 268.40,492.47 268.90,491.94 269.40,492.00 269.90,493.46 270.40,493.40 270.90,493.26 271.40,494.18 271.90,494.17 272.40,495.06 272.90,495.55 273.40,494.89 273.90,495.77 274.40,495.58 274.90,494.42 275.40,495.32 275.90,494.15 276.40,492.42 276.90,491.95 277.40,489.92 277.90,489.76 278.40,489.65 278.90,484.08 279.40,483.28 279.90,484.10 280.40,479.39 280.90,479.31 281.40,479.95 281.90,476.41 282.40,474.79 282.90,470.16 283.40,471.71 283.90,469.21 284.40,467.50 284.90,466.66 285.40,466.45 285.90,463.77 286.40,461.48 286.90,461.15 287.40,462.65 287.90,462.23 288.40,459.51 288.90,460.02 289.40,459.14 289.50,455.00 289.90,462.67 290.40,459.73 290.90,463.91 291.40,469.27 291.90,468.82 292.40,470.25 292.90,477.33 293.40,476.82 293.90,478.60 294.40,479.29 294.90,482.25 295.40,484.17 295.90,485.45 296.40,484.78 296.90,485.99 297.40,490.40 297.90,492.28 298.40,490.15 298.90,495.02 299.40,495.06 299.90,494.93 300.40,494.96 300.90,494.91 301.40,495.93 301.90,497.47 302.40,496.72 302.90,497.38 303.40,496.48 303.90,498.47 304.40,499.95 304.90,500.14 305.40,498.70 305.90,500.60 306.40,501.81 306.90,500.74 307.40,500.35 307.90,499.53 308.40,501.10 308.90,499.93 309.40,499.86 309.90,500.93 310.40,500.59 310.90,499.24 311.40,499.29 311.90,499.91 312.40,500.30 312.90,499.75 313.40,500.66 313.90,500.65 314.40,501.20 314.90,500.61 315.40,500.69 315.90,498.74 316.40,500.80 316.90,499.82 317.40,499.80 317.90,500.85 318.40,499.94 318.90,502.00 319.40,500.71 319.90,500.21 320.40,502.00 320.90,501.60 321.40,500.11 321.90,501.01 322.40,501.59 322.90,501.11 323.40,501.23 323.90,500.39 324.40,500.58 324.90,501.09 325.40,501.35 325.90,500.95 326.40,500.04 326.90,500.70 327.40,500.52 327.90,501.06 328.40,501.83 328.90,501.45 329.40,500.56 329.90,500.93 330.40,501.61 330.90,502.00 331.40,500.95 331.90,501.26 332.40,501.28 332.90,501.27 333.40,500.88 333.90,500.88 334.40,500.46 334.90,500.49 335.40,500.24 335.90,500.59 336.40,501.35 336.90,501.17 337.40,500.83 337.90,501.36 338.40,500.81 338.90,500.43 339.40,501.71 339.90,502.00 340.40,500.49 340.90,501.31 341.40,500.94 341.90,502.00 342.40,500.46 342.90,501.14 343.40,501.65 343.90,501.72 344.40,501.79 344.90,501.85 345.40,501.92 345.90,501.99 346.40,502.00 346.90,502.00 347.40,502.00 347.90,502.00 348.40,502.00 348.40,502.00" fill="#6a6cf6" stroke="none"/>
<polyline points="205.90,475.60 206.00,469.00 206.40,495.40 206.90,500.17 207.40,499.67 207.90,499.13 208.40,499.87 208.90,500.34 209.40,500.50 209.90,499.36 210.40,498.70 210.90,499.68 211.40,500.78 211.90,500.57 212.40,498.67 212.90,499.69 213.40,501.10 213.90,499.87 214.40,500.66 214.90,500.25 215.40,500.14 215.90,500.29 216.40,499.34 216.90,499.78 217.40,500.16 217.90,499.41 218.40,499.08 218.90,500.91 219.40,499.87 219.90,500.39 220.40,499.78 220.90,500.60 221.40,499.61 221.90,499.64 222.40,499.53 222.90,499.73 223.40,498.84 223.90,499.02 224.40,498.87 224.90,497.16 225.40,497.92 225.90,495.55 226.40,495.55 226.90,497.60 227.40,494.95 227.90,495.63 228.40,493.97 228.90,493.36 229.40,494.77 229.90,492.43 230.40,491.86 230.90,490.00 231.40,491.64 231.90,488.86 232.40,490.09 232.90,488.51 233.40,488.34 233.90,485.01 234.40,485.25 234.90,482.32 235.40,483.25 235.90,481.76 236.40,480.51 236.90,481.06 237.40,479.16 237.90,476.09 238.40,477.11 238.90,475.40 239.40,474.93 239.90,473.33 240.40,473.90 240.90,472.86 241.40,471.56 241.90,471.01 242.40,471.25 242.90,467.08 243.40,468.59 243.90,466.81 244.40,465.29 244.90,460.23 245.40,460.26 245.90,459.23 246.40,457.51 246.90,453.02 247.40,453.43 247.90,451.82 248.40,446.66 248.90,447.74 249.40,444.26 249.90,441.71 250.40,440.69 250.90,439.03 251.40,435.57 251.90,437.92 252.40,437.90 252.90,437.33 253.40,432.26 253.50,422.30 253.90,435.69 254.40,438.38 254.90,443.04 255.40,444.73 255.90,446.80 256.40,448.11 256.90,448.63 257.40,451.20 257.90,452.34 258.40,451.44 258.90,455.74 259.40,460.96 259.90,457.84 260.40,461.97 260.90,465.90 261.40,465.58 261.90,469.54 262.40,473.08 262.90,475.75 263.40,478.85 263.90,479.94 264.40,480.17 264.90,483.36 265.40,483.96 265.90,483.79 266.40,488.78 266.90,488.63 267.40,490.72 267.90,492.01 268.40,492.47 268.90,491.94 269.40,492.00 269.90,493.46 270.40,493.40 270.90,493.26 271.40,494.18 271.90,494.17 272.40,495.06 272.90,495.55 273.40,494.89 273.90,495.77 274.40,495.58 274.90,494.42 275.40,495.32 275.90,494.15 276.40,492.42 276.90,491.95 277.40,489.92 277.90,489.76 278.40,489.65 278.90,484.08 279.40,483.28 279.90,484.10 280.40,479.39 280.90,479.31 281.40,479.95 281.90,476.41 282.40,474.79 282.90,470.16 283.40,471.71 283.90,469.21 284.40,467.50 284.90,466.66 285.40,466.45 285.90,463.77 286.40,461.48 286.90,461.15 287.40,462.65 287.90,462.23 288.40,459.51 288.90,460.02 289.40,459.14 289.50,455.00 289.90,462.67 290.40,459.73 290.90,463.91 291.40,469.27 291.90,468.82 292.40,470.25 292.90,477.33 293.40,476.82 293.90,478.60 294.40,479.29 294.90,482.25 295.40,484.17 295.90,485.45 296.40,484.78 296.90,485.99 297.40,490.40 297.90,492.28 298.40,490.15 298.90,495.02 299.40,495.06 299.90,494.93 300.40,494.96 300.90,494.91 301.40,495.93 301.90,497.47 302.40,496.72 302.90,497.38 303.40,496.48 303.90,498.47 304.40,499.95 304.90,500.14 305.40,498.70 305.90,500.60 306.40,501.81 306.90,500.74 307.40,500.35 307.90,499.53 308.40,501.10 308.90,499.93 309.40,499.86 309.90,500.93 310.40,500.59 310.90,499.24 311.40,499.29 311.90,499.91 312.40,500.30 312.90,499.75 313.40,500.66 313.90,500.65 314.40,501.20 314.90,500.61 315.40,500.69 315.90,498.74 316.40,500.80 316.90,499.82 317.40,499.80 317.90,500.85 318.40,499.94 318.90,502.00 319.40,500.71 319.90,500.21 320.40,502.00 320.90,501.60 321.40,500.11 321.90,501.01 322.40,501.59 322.90,501.11 323.40,501.23 323.90,500.39 324.40,500.58 324.90,501.09 325.40,501.35 325.90,500.95 326.40,500.04 326.90,500.70 327.40,500.52 327.90,501.06 328.40,501.83 328.90,501.45 329.40,500.56 329.90,500.93 330.40,501.61 330.90,502.00 331.40,500.95 331.90,501.26 332.40,501.28 332.90,501.27 333.40,500.88 333.90,500.88 334.40,500.46 334.90,500.49 335.40,500.24 335.90,500.59 336.40,501.35 336.90,501.17 337.40,500.83 337.90,501.36 338.40,500.81 338.90,500.43 339.40,501.71 339.90,502.00 340.40,500.49 340.90,501.31 341.40,500.94 341.90,502.00 342.40,500.46 342.90,501.14 343.40,501.65 343.90,501.72" fill="none" stroke="#2c2ce2" stroke-width="0.75" stroke-linejoin="round"/>
<rect x="205.60" y="422.30" width="143.10" height="79.70" fill="none" stroke="#5a5a5a" stroke-width="1.1"/>
<line x1="243.10" y1="422.30" x2="243.10" y2="502.00" stroke="#686868" stroke-width="1.1" stroke-linecap="butt"/>
<line x1="243.10" y1="467.80" x2="348.70" y2="467.80" stroke="#3a3a3a" stroke-width="1.1" stroke-linecap="butt"/>
<text x="295.90" y="435.80" font-size="6.3" text-anchor="middle" font-weight="normal" fill="#333" >ROS</text>
<text x="274.80" y="407.70" font-size="9.7" text-anchor="middle" font-weight="normal" fill="#111" stroke="#111" stroke-width="0.25">silychristin</text>
<text x="312.30" y="463.20" font-size="8.4" text-anchor="start" font-weight="normal" fill="#111" stroke="#111" stroke-width="0.2">3 480</text>
<line x1="206.93" y1="502.00" x2="206.93" y2="504.00" stroke="#2a2a2a" stroke-width="0.75" stroke-linecap="butt"/>
<line x1="211.40" y1="502.00" x2="211.40" y2="504.00" stroke="#2a2a2a" stroke-width="0.75" stroke-linecap="butt"/>
<line x1="214.86" y1="502.00" x2="214.86" y2="504.00" stroke="#2a2a2a" stroke-width="0.75" stroke-linecap="butt"/>
<line x1="217.70" y1="502.00" x2="217.70" y2="504.00" stroke="#2a2a2a" stroke-width="0.75" stroke-linecap="butt"/>
<line x1="220.09" y1="502.00" x2="220.09" y2="504.00" stroke="#2a2a2a" stroke-width="0.75" stroke-linecap="butt"/>
<line x1="222.17" y1="502.00" x2="222.17" y2="504.00" stroke="#2a2a2a" stroke-width="0.75" stroke-linecap="butt"/>
<line x1="224.00" y1="502.00" x2="224.00" y2="504.00" stroke="#2a2a2a" stroke-width="0.75" stroke-linecap="butt"/>
<line x1="225.63" y1="502.00" x2="225.63" y2="505.20" stroke="#2a2a2a" stroke-width="0.75" stroke-linecap="butt"/>
<line x1="236.40" y1="502.00" x2="236.40" y2="504.00" stroke="#2a2a2a" stroke-width="0.75" stroke-linecap="butt"/>
<line x1="242.70" y1="502.00" x2="242.70" y2="504.00" stroke="#2a2a2a" stroke-width="0.75" stroke-linecap="butt"/>
<line x1="247.17" y1="502.00" x2="247.17" y2="504.00" stroke="#2a2a2a" stroke-width="0.75" stroke-linecap="butt"/>
<line x1="250.64" y1="502.00" x2="250.64" y2="504.00" stroke="#2a2a2a" stroke-width="0.75" stroke-linecap="butt"/>
<line x1="253.47" y1="502.00" x2="253.47" y2="504.00" stroke="#2a2a2a" stroke-width="0.75" stroke-linecap="butt"/>
<line x1="255.87" y1="502.00" x2="255.87" y2="504.00" stroke="#2a2a2a" stroke-width="0.75" stroke-linecap="butt"/>
<line x1="257.94" y1="502.00" x2="257.94" y2="504.00" stroke="#2a2a2a" stroke-width="0.75" stroke-linecap="butt"/>
<line x1="259.77" y1="502.00" x2="259.77" y2="504.00" stroke="#2a2a2a" stroke-width="0.75" stroke-linecap="butt"/>
<text x="225.63" y="512.50" font-size="5.2" text-anchor="middle" fill="#222">10<tspan font-size="3.5" dy="-2">2</tspan></text>
<line x1="261.41" y1="502.00" x2="261.41" y2="505.20" stroke="#2a2a2a" stroke-width="0.75" stroke-linecap="butt"/>
<line x1="272.18" y1="502.00" x2="272.18" y2="504.00" stroke="#2a2a2a" stroke-width="0.75" stroke-linecap="butt"/>
<line x1="278.48" y1="502.00" x2="278.48" y2="504.00" stroke="#2a2a2a" stroke-width="0.75" stroke-linecap="butt"/>
<line x1="282.95" y1="502.00" x2="282.95" y2="504.00" stroke="#2a2a2a" stroke-width="0.75" stroke-linecap="butt"/>
<line x1="286.41" y1="502.00" x2="286.41" y2="504.00" stroke="#2a2a2a" stroke-width="0.75" stroke-linecap="butt"/>
<line x1="289.25" y1="502.00" x2="289.25" y2="504.00" stroke="#2a2a2a" stroke-width="0.75" stroke-linecap="butt"/>
<line x1="291.64" y1="502.00" x2="291.64" y2="504.00" stroke="#2a2a2a" stroke-width="0.75" stroke-linecap="butt"/>
<line x1="293.72" y1="502.00" x2="293.72" y2="504.00" stroke="#2a2a2a" stroke-width="0.75" stroke-linecap="butt"/>
<line x1="295.55" y1="502.00" x2="295.55" y2="504.00" stroke="#2a2a2a" stroke-width="0.75" stroke-linecap="butt"/>
<text x="261.41" y="512.50" font-size="5.2" text-anchor="middle" fill="#222">10<tspan font-size="3.5" dy="-2">3</tspan></text>
<line x1="297.18" y1="502.00" x2="297.18" y2="505.20" stroke="#2a2a2a" stroke-width="0.75" stroke-linecap="butt"/>
<line x1="307.95" y1="502.00" x2="307.95" y2="504.00" stroke="#2a2a2a" stroke-width="0.75" stroke-linecap="butt"/>
<line x1="314.25" y1="502.00" x2="314.25" y2="504.00" stroke="#2a2a2a" stroke-width="0.75" stroke-linecap="butt"/>
<line x1="318.72" y1="502.00" x2="318.72" y2="504.00" stroke="#2a2a2a" stroke-width="0.75" stroke-linecap="butt"/>
<line x1="322.19" y1="502.00" x2="322.19" y2="504.00" stroke="#2a2a2a" stroke-width="0.75" stroke-linecap="butt"/>
<line x1="325.02" y1="502.00" x2="325.02" y2="504.00" stroke="#2a2a2a" stroke-width="0.75" stroke-linecap="butt"/>
<line x1="327.42" y1="502.00" x2="327.42" y2="504.00" stroke="#2a2a2a" stroke-width="0.75" stroke-linecap="butt"/>
<line x1="329.49" y1="502.00" x2="329.49" y2="504.00" stroke="#2a2a2a" stroke-width="0.75" stroke-linecap="butt"/>
<line x1="331.32" y1="502.00" x2="331.32" y2="504.00" stroke="#2a2a2a" stroke-width="0.75" stroke-linecap="butt"/>
<text x="297.18" y="512.50" font-size="5.2" text-anchor="middle" fill="#222">10<tspan font-size="3.5" dy="-2">4</tspan></text>
<line x1="332.96" y1="502.00" x2="332.96" y2="505.20" stroke="#2a2a2a" stroke-width="0.75" stroke-linecap="butt"/>
<line x1="343.73" y1="502.00" x2="343.73" y2="504.00" stroke="#2a2a2a" stroke-width="0.75" stroke-linecap="butt"/>
<text x="332.96" y="512.50" font-size="5.2" text-anchor="middle" fill="#222">10<tspan font-size="3.5" dy="-2">5</tspan></text>
<line x1="202.10" y1="502.00" x2="205.60" y2="502.00" stroke="#2a2a2a" stroke-width="0.65" stroke-linecap="butt"/>
<line x1="203.20" y1="498.49" x2="205.60" y2="498.49" stroke="#2a2a2a" stroke-width="0.65" stroke-linecap="butt"/>
<line x1="203.20" y1="494.99" x2="205.60" y2="494.99" stroke="#2a2a2a" stroke-width="0.65" stroke-linecap="butt"/>
<line x1="203.20" y1="491.48" x2="205.60" y2="491.48" stroke="#2a2a2a" stroke-width="0.65" stroke-linecap="butt"/>
<line x1="203.20" y1="487.97" x2="205.60" y2="487.97" stroke="#2a2a2a" stroke-width="0.65" stroke-linecap="butt"/>
<line x1="202.10" y1="484.47" x2="205.60" y2="484.47" stroke="#2a2a2a" stroke-width="0.65" stroke-linecap="butt"/>
<line x1="203.20" y1="480.96" x2="205.60" y2="480.96" stroke="#2a2a2a" stroke-width="0.65" stroke-linecap="butt"/>
<line x1="203.20" y1="477.45" x2="205.60" y2="477.45" stroke="#2a2a2a" stroke-width="0.65" stroke-linecap="butt"/>
<line x1="203.20" y1="473.95" x2="205.60" y2="473.95" stroke="#2a2a2a" stroke-width="0.65" stroke-linecap="butt"/>
<line x1="203.20" y1="470.44" x2="205.60" y2="470.44" stroke="#2a2a2a" stroke-width="0.65" stroke-linecap="butt"/>
<line x1="202.10" y1="466.93" x2="205.60" y2="466.93" stroke="#2a2a2a" stroke-width="0.65" stroke-linecap="butt"/>
<line x1="203.20" y1="463.43" x2="205.60" y2="463.43" stroke="#2a2a2a" stroke-width="0.65" stroke-linecap="butt"/>
<line x1="203.20" y1="459.92" x2="205.60" y2="459.92" stroke="#2a2a2a" stroke-width="0.65" stroke-linecap="butt"/>
<line x1="203.20" y1="456.41" x2="205.60" y2="456.41" stroke="#2a2a2a" stroke-width="0.65" stroke-linecap="butt"/>
<line x1="203.20" y1="452.90" x2="205.60" y2="452.90" stroke="#2a2a2a" stroke-width="0.65" stroke-linecap="butt"/>
<line x1="202.10" y1="449.40" x2="205.60" y2="449.40" stroke="#2a2a2a" stroke-width="0.65" stroke-linecap="butt"/>
<line x1="203.20" y1="445.89" x2="205.60" y2="445.89" stroke="#2a2a2a" stroke-width="0.65" stroke-linecap="butt"/>
<line x1="203.20" y1="442.38" x2="205.60" y2="442.38" stroke="#2a2a2a" stroke-width="0.65" stroke-linecap="butt"/>
<line x1="203.20" y1="438.88" x2="205.60" y2="438.88" stroke="#2a2a2a" stroke-width="0.65" stroke-linecap="butt"/>
<line x1="203.20" y1="435.37" x2="205.60" y2="435.37" stroke="#2a2a2a" stroke-width="0.65" stroke-linecap="butt"/>
<line x1="202.10" y1="431.86" x2="205.60" y2="431.86" stroke="#2a2a2a" stroke-width="0.65" stroke-linecap="butt"/>
<line x1="203.20" y1="428.36" x2="205.60" y2="428.36" stroke="#2a2a2a" stroke-width="0.65" stroke-linecap="butt"/>
<line x1="203.20" y1="424.85" x2="205.60" y2="424.85" stroke="#2a2a2a" stroke-width="0.65" stroke-linecap="butt"/>
<text transform="translate(201.30,502.00) rotate(-90)" font-size="4.8" text-anchor="middle" fill="#333">0</text>
<text transform="translate(201.30,484.47) rotate(-90)" font-size="4.8" text-anchor="middle" fill="#333">25</text>
<text transform="translate(201.30,466.93) rotate(-90)" font-size="4.8" text-anchor="middle" fill="#333">50</text>
<text transform="translate(201.30,449.40) rotate(-90)" font-size="4.8" text-anchor="middle" fill="#333">75</text>
<text transform="translate(201.30,431.86) rotate(-90)" font-size="4.8" text-anchor="middle" fill="#333">100</text>
<text transform="translate(195.50,462.65) rotate(-90)" font-size="6.3" text-anchor="middle" fill="#222">Count</text>
<polygon points="381.80,505.20 381.80,496.32 382.00,490.40 382.30,499.28 382.80,505.17 383.30,503.59 383.80,502.84 384.30,502.62 384.80,503.07 385.30,502.52 385.80,503.31 386.30,503.14 386.80,503.38 387.30,504.20 387.80,504.05 388.30,503.25 388.80,503.88 389.30,502.67 389.80,502.65 390.30,502.32 390.80,503.52 391.30,502.59 391.80,504.09 392.30,504.03 392.80,503.45 393.30,503.32 393.80,504.55 394.30,504.63 394.80,503.27 395.30,504.06 395.80,502.71 396.30,503.24 396.80,503.30 397.30,503.36 397.80,502.91 398.30,503.60 398.80,502.79 399.30,503.84 399.80,503.65 400.30,503.97 400.80,503.18 401.30,503.58 401.80,504.20 402.30,502.40 402.80,503.96 403.30,503.84 403.80,503.55 404.30,502.74 404.80,503.98 405.30,503.36 405.80,503.59 406.30,504.46 406.80,502.83 407.30,502.52 407.80,503.21 408.30,502.91 408.80,503.79 409.30,503.66 409.80,502.72 410.30,501.85 410.80,502.48 411.30,501.78 411.80,501.13 412.30,501.61 412.80,501.11 413.30,500.30 413.80,502.17 414.30,500.46 414.80,502.26 415.30,500.26 415.80,500.23 416.30,500.60 416.80,500.82 417.30,499.79 417.80,499.86 418.30,499.23 418.80,499.85 419.30,498.43 419.80,499.54 420.30,498.66 420.80,498.24 421.30,496.30 421.80,498.22 422.30,496.77 422.80,494.83 423.30,496.01 423.80,496.05 424.30,494.13 424.80,494.03 425.30,491.68 425.80,492.18 426.30,489.80 426.80,488.05 427.30,486.38 427.80,487.46 428.30,483.41 428.80,484.05 429.30,482.82 429.80,480.21 430.30,476.88 430.80,475.50 431.30,472.13 431.80,469.38 432.30,466.93 432.80,465.05 433.30,459.45 433.80,462.45 434.30,458.48 434.80,453.34 435.30,451.18 435.80,449.95 436.30,443.85 436.80,441.15 437.30,441.52 437.80,433.53 438.30,430.45 438.80,428.88 439.10,422.30 439.30,431.10 439.80,430.52 440.30,433.26 440.80,431.54 441.30,434.35 441.80,434.01 442.30,436.77 442.80,435.98 443.30,437.84 443.80,439.01 444.30,445.95 444.80,448.59 445.30,447.40 445.80,451.26 446.30,452.10 446.80,454.92 447.30,457.77 447.80,459.38 448.30,462.58 448.80,465.38 449.30,469.96 449.80,469.27 450.30,474.14 450.80,475.70 451.30,479.45 451.80,480.62 452.30,483.41 452.80,484.82 453.30,486.40 453.80,488.80 454.30,490.12 454.80,491.16 455.30,492.45 455.80,493.96 456.30,491.41 456.80,495.26 457.30,495.28 457.80,493.43 458.30,496.93 458.80,496.32 459.30,497.10 459.80,498.51 460.30,500.18 460.80,500.60 461.30,499.17 461.80,498.65 462.30,500.63 462.80,498.54 463.30,499.05 463.80,497.58 464.30,498.02 464.80,498.69 465.30,498.20 465.80,497.62 466.30,496.12 466.80,494.10 467.30,495.97 467.80,495.68 468.30,494.64 468.80,494.76 469.30,493.63 469.80,493.35 470.30,493.22 470.80,493.49 471.30,492.05 471.80,490.88 472.30,491.30 472.80,489.43 473.30,489.59 473.80,490.28 474.30,487.94 474.80,490.50 475.30,487.69 475.80,486.54 476.30,488.37 476.80,487.80 477.30,487.08 477.80,486.95 478.30,488.39 478.80,488.98 479.30,488.67 479.80,489.74 480.30,491.64 480.80,490.98 481.30,491.20 481.80,493.47 482.30,492.39 482.80,494.30 483.30,493.69 483.80,496.56 484.30,496.82 484.80,498.08 485.30,496.49 485.80,497.33 486.30,497.56 486.80,497.94 487.30,498.80 487.80,499.19 488.30,501.61 488.80,500.41 489.30,501.41 489.80,501.65 490.30,502.69 490.80,501.23 491.30,502.43 491.80,503.93 492.30,502.96 492.80,503.73 493.30,504.52 493.80,504.11 494.30,504.47 494.80,505.20 495.30,505.04 495.80,503.85 496.30,504.00 496.80,504.11 497.30,505.03 497.80,504.73 498.30,504.39 498.80,504.07 499.30,505.02 499.80,505.19 500.30,503.98 500.80,504.66 501.30,504.97 501.80,504.82 502.30,504.88 502.80,504.94 503.30,505.00 503.80,505.06 504.30,505.12 504.80,505.18 505.30,505.20 505.80,505.20 506.30,505.20 506.80,505.20 507.30,505.20 507.80,505.20 508.30,505.20 508.80,505.20 509.30,505.20 509.80,505.20 510.30,505.20 510.80,505.20 511.30,505.20 511.80,505.20 512.30,505.20 512.80,505.20 513.30,505.20 513.80,505.20 514.30,505.20 514.80,505.20 515.30,505.20 515.80,505.20 516.30,505.20 516.80,505.20 517.30,505.20 517.80,505.20 518.30,505.20 518.80,505.20 519.30,505.20 519.80,505.20 520.30,505.20 520.80,505.20 521.30,505.20 521.80,505.20 522.30,505.20 522.80,505.20 523.30,505.20 523.80,505.20 524.30,505.20 524.80,505.20 525.30,505.20 525.80,505.20 526.30,505.20 526.80,505.20 527.30,505.20 527.80,505.20 528.30,505.20 528.80,505.20 529.30,505.20 529.80,505.20 530.20,505.20" fill="#6a6cf6" stroke="none"/>
<polyline points="381.80,496.32 382.00,490.40 382.30,499.28 382.80,505.17 383.30,503.59 383.80,502.84 384.30,502.62 384.80,503.07 385.30,502.52 385.80,503.31 386.30,503.14 386.80,503.38 387.30,504.20 387.80,504.05 388.30,503.25 388.80,503.88 389.30,502.67 389.80,502.65 390.30,502.32 390.80,503.52 391.30,502.59 391.80,504.09 392.30,504.03 392.80,503.45 393.30,503.32 393.80,504.55 394.30,504.63 394.80,503.27 395.30,504.06 395.80,502.71 396.30,503.24 396.80,503.30 397.30,503.36 397.80,502.91 398.30,503.60 398.80,502.79 399.30,503.84 399.80,503.65 400.30,503.97 400.80,503.18 401.30,503.58 401.80,504.20 402.30,502.40 402.80,503.96 403.30,503.84 403.80,503.55 404.30,502.74 404.80,503.98 405.30,503.36 405.80,503.59 406.30,504.46 406.80,502.83 407.30,502.52 407.80,503.21 408.30,502.91 408.80,503.79 409.30,503.66 409.80,502.72 410.30,501.85 410.80,502.48 411.30,501.78 411.80,501.13 412.30,501.61 412.80,501.11 413.30,500.30 413.80,502.17 414.30,500.46 414.80,502.26 415.30,500.26 415.80,500.23 416.30,500.60 416.80,500.82 417.30,499.79 417.80,499.86 418.30,499.23 418.80,499.85 419.30,498.43 419.80,499.54 420.30,498.66 420.80,498.24 421.30,496.30 421.80,498.22 422.30,496.77 422.80,494.83 423.30,496.01 423.80,496.05 424.30,494.13 424.80,494.03 425.30,491.68 425.80,492.18 426.30,489.80 426.80,488.05 427.30,486.38 427.80,487.46 428.30,483.41 428.80,484.05 429.30,482.82 429.80,480.21 430.30,476.88 430.80,475.50 431.30,472.13 431.80,469.38 432.30,466.93 432.80,465.05 433.30,459.45 433.80,462.45 434.30,458.48 434.80,453.34 435.30,451.18 435.80,449.95 436.30,443.85 436.80,441.15 437.30,441.52 437.80,433.53 438.30,430.45 438.80,428.88 439.10,422.30 439.30,431.10 439.80,430.52 440.30,433.26 440.80,431.54 441.30,434.35 441.80,434.01 442.30,436.77 442.80,435.98 443.30,437.84 443.80,439.01 444.30,445.95 444.80,448.59 445.30,447.40 445.80,451.26 446.30,452.10 446.80,454.92 447.30,457.77 447.80,459.38 448.30,462.58 448.80,465.38 449.30,469.96 449.80,469.27 450.30,474.14 450.80,475.70 451.30,479.45 451.80,480.62 452.30,483.41 452.80,484.82 453.30,486.40 453.80,488.80 454.30,490.12 454.80,491.16 455.30,492.45 455.80,493.96 456.30,491.41 456.80,495.26 457.30,495.28 457.80,493.43 458.30,496.93 458.80,496.32 459.30,497.10 459.80,498.51 460.30,500.18 460.80,500.60 461.30,499.17 461.80,498.65 462.30,500.63 462.80,498.54 463.30,499.05 463.80,497.58 464.30,498.02 464.80,498.69 465.30,498.20 465.80,497.62 466.30,496.12 466.80,494.10 467.30,495.97 467.80,495.68 468.30,494.64 468.80,494.76 469.30,493.63 469.80,493.35 470.30,493.22 470.80,493.49 471.30,492.05 471.80,490.88 472.30,491.30 472.80,489.43 473.30,489.59 473.80,490.28 474.30,487.94 474.80,490.50 475.30,487.69 475.80,486.54 476.30,488.37 476.80,487.80 477.30,487.08 477.80,486.95 478.30,488.39 478.80,488.98 479.30,488.67 479.80,489.74 480.30,491.64 480.80,490.98 481.30,491.20 481.80,493.47 482.30,492.39 482.80,494.30 483.30,493.69 483.80,496.56 484.30,496.82 484.80,498.08 485.30,496.49 485.80,497.33 486.30,497.56 486.80,497.94 487.30,498.80 487.80,499.19 488.30,501.61 488.80,500.41 489.30,501.41 489.80,501.65 490.30,502.69 490.80,501.23 491.30,502.43 491.80,503.93 492.30,502.96 492.80,503.73 493.30,504.52 493.80,504.11 494.30,504.47 494.80,505.20 495.30,505.04 495.80,503.85 496.30,504.00 496.80,504.11 497.30,505.03 497.80,504.73 498.30,504.39 498.80,504.07 499.30,505.02 499.80,505.19 500.30,503.98 500.80,504.66 501.30,504.97 501.80,504.82 502.30,504.88" fill="none" stroke="#2c2ce2" stroke-width="0.75" stroke-linejoin="round"/>
<rect x="381.50" y="422.30" width="149.00" height="82.90" fill="none" stroke="#5a5a5a" stroke-width="1.1"/>
<line x1="420.80" y1="422.30" x2="420.80" y2="505.20" stroke="#686868" stroke-width="1.1" stroke-linecap="butt"/>
<line x1="420.80" y1="482.40" x2="530.50" y2="482.40" stroke="#3a3a3a" stroke-width="1.1" stroke-linecap="butt"/>
<text x="475.65" y="435.80" font-size="6.3" text-anchor="middle" font-weight="normal" fill="#333" >ROS</text>
<text x="457.00" y="407.70" font-size="9.7" text-anchor="middle" font-weight="normal" fill="#111" stroke="#111" stroke-width="0.25">2,3-dehydrosilybin</text>
<text x="483.20" y="478.10" font-size="8.4" text-anchor="start" font-weight="normal" fill="#111" stroke="#111" stroke-width="0.2">3 020</text>
<line x1="382.88" y1="505.20" x2="382.88" y2="507.20" stroke="#2a2a2a" stroke-width="0.75" stroke-linecap="butt"/>
<line x1="387.54" y1="505.20" x2="387.54" y2="507.20" stroke="#2a2a2a" stroke-width="0.75" stroke-linecap="butt"/>
<line x1="391.15" y1="505.20" x2="391.15" y2="507.20" stroke="#2a2a2a" stroke-width="0.75" stroke-linecap="butt"/>
<line x1="394.10" y1="505.20" x2="394.10" y2="507.20" stroke="#2a2a2a" stroke-width="0.75" stroke-linecap="butt"/>
<line x1="396.59" y1="505.20" x2="396.59" y2="507.20" stroke="#2a2a2a" stroke-width="0.75" stroke-linecap="butt"/>
<line x1="398.75" y1="505.20" x2="398.75" y2="507.20" stroke="#2a2a2a" stroke-width="0.75" stroke-linecap="butt"/>
<line x1="400.66" y1="505.20" x2="400.66" y2="507.20" stroke="#2a2a2a" stroke-width="0.75" stroke-linecap="butt"/>
<line x1="402.36" y1="505.20" x2="402.36" y2="508.40" stroke="#2a2a2a" stroke-width="0.75" stroke-linecap="butt"/>
<line x1="413.57" y1="505.20" x2="413.57" y2="507.20" stroke="#2a2a2a" stroke-width="0.75" stroke-linecap="butt"/>
<line x1="420.13" y1="505.20" x2="420.13" y2="507.20" stroke="#2a2a2a" stroke-width="0.75" stroke-linecap="butt"/>
<line x1="424.79" y1="505.20" x2="424.79" y2="507.20" stroke="#2a2a2a" stroke-width="0.75" stroke-linecap="butt"/>
<line x1="428.40" y1="505.20" x2="428.40" y2="507.20" stroke="#2a2a2a" stroke-width="0.75" stroke-linecap="butt"/>
<line x1="431.35" y1="505.20" x2="431.35" y2="507.20" stroke="#2a2a2a" stroke-width="0.75" stroke-linecap="butt"/>
<line x1="433.84" y1="505.20" x2="433.84" y2="507.20" stroke="#2a2a2a" stroke-width="0.75" stroke-linecap="butt"/>
<line x1="436.00" y1="505.20" x2="436.00" y2="507.20" stroke="#2a2a2a" stroke-width="0.75" stroke-linecap="butt"/>
<line x1="437.91" y1="505.20" x2="437.91" y2="507.20" stroke="#2a2a2a" stroke-width="0.75" stroke-linecap="butt"/>
<text x="402.36" y="515.70" font-size="5.2" text-anchor="middle" fill="#222">10<tspan font-size="3.5" dy="-2">2</tspan></text>
<line x1="439.61" y1="505.20" x2="439.61" y2="508.40" stroke="#2a2a2a" stroke-width="0.75" stroke-linecap="butt"/>
<line x1="450.82" y1="505.20" x2="450.82" y2="507.20" stroke="#2a2a2a" stroke-width="0.75" stroke-linecap="butt"/>
<line x1="457.38" y1="505.20" x2="457.38" y2="507.20" stroke="#2a2a2a" stroke-width="0.75" stroke-linecap="butt"/>
<line x1="462.04" y1="505.20" x2="462.04" y2="507.20" stroke="#2a2a2a" stroke-width="0.75" stroke-linecap="butt"/>
<line x1="465.65" y1="505.20" x2="465.65" y2="507.20" stroke="#2a2a2a" stroke-width="0.75" stroke-linecap="butt"/>
<line x1="468.60" y1="505.20" x2="468.60" y2="507.20" stroke="#2a2a2a" stroke-width="0.75" stroke-linecap="butt"/>
<line x1="471.09" y1="505.20" x2="471.09" y2="507.20" stroke="#2a2a2a" stroke-width="0.75" stroke-linecap="butt"/>
<line x1="473.25" y1="505.20" x2="473.25" y2="507.20" stroke="#2a2a2a" stroke-width="0.75" stroke-linecap="butt"/>
<line x1="475.16" y1="505.20" x2="475.16" y2="507.20" stroke="#2a2a2a" stroke-width="0.75" stroke-linecap="butt"/>
<text x="439.61" y="515.70" font-size="5.2" text-anchor="middle" fill="#222">10<tspan font-size="3.5" dy="-2">3</tspan></text>
<line x1="476.86" y1="505.20" x2="476.86" y2="508.40" stroke="#2a2a2a" stroke-width="0.75" stroke-linecap="butt"/>
<line x1="488.07" y1="505.20" x2="488.07" y2="507.20" stroke="#2a2a2a" stroke-width="0.75" stroke-linecap="butt"/>
<line x1="494.63" y1="505.20" x2="494.63" y2="507.20" stroke="#2a2a2a" stroke-width="0.75" stroke-linecap="butt"/>
<line x1="499.29" y1="505.20" x2="499.29" y2="507.20" stroke="#2a2a2a" stroke-width="0.75" stroke-linecap="butt"/>
<line x1="502.90" y1="505.20" x2="502.90" y2="507.20" stroke="#2a2a2a" stroke-width="0.75" stroke-linecap="butt"/>
<line x1="505.85" y1="505.20" x2="505.85" y2="507.20" stroke="#2a2a2a" stroke-width="0.75" stroke-linecap="butt"/>
<line x1="508.34" y1="505.20" x2="508.34" y2="507.20" stroke="#2a2a2a" stroke-width="0.75" stroke-linecap="butt"/>
<line x1="510.50" y1="505.20" x2="510.50" y2="507.20" stroke="#2a2a2a" stroke-width="0.75" stroke-linecap="butt"/>
<line x1="512.41" y1="505.20" x2="512.41" y2="507.20" stroke="#2a2a2a" stroke-width="0.75" stroke-linecap="butt"/>
<text x="476.86" y="515.70" font-size="5.2" text-anchor="middle" fill="#222">10<tspan font-size="3.5" dy="-2">4</tspan></text>
<line x1="514.11" y1="505.20" x2="514.11" y2="508.40" stroke="#2a2a2a" stroke-width="0.75" stroke-linecap="butt"/>
<line x1="525.32" y1="505.20" x2="525.32" y2="507.20" stroke="#2a2a2a" stroke-width="0.75" stroke-linecap="butt"/>
<text x="514.11" y="515.70" font-size="5.2" text-anchor="middle" fill="#222">10<tspan font-size="3.5" dy="-2">5</tspan></text>
<line x1="378.00" y1="505.20" x2="381.50" y2="505.20" stroke="#2a2a2a" stroke-width="0.65" stroke-linecap="butt"/>
<line x1="379.10" y1="500.44" x2="381.50" y2="500.44" stroke="#2a2a2a" stroke-width="0.65" stroke-linecap="butt"/>
<line x1="379.10" y1="495.68" x2="381.50" y2="495.68" stroke="#2a2a2a" stroke-width="0.65" stroke-linecap="butt"/>
<line x1="379.10" y1="490.92" x2="381.50" y2="490.92" stroke="#2a2a2a" stroke-width="0.65" stroke-linecap="butt"/>
<line x1="379.10" y1="486.17" x2="381.50" y2="486.17" stroke="#2a2a2a" stroke-width="0.65" stroke-linecap="butt"/>
<line x1="378.00" y1="481.41" x2="381.50" y2="481.41" stroke="#2a2a2a" stroke-width="0.65" stroke-linecap="butt"/>
<line x1="379.10" y1="476.65" x2="381.50" y2="476.65" stroke="#2a2a2a" stroke-width="0.65" stroke-linecap="butt"/>
<line x1="379.10" y1="471.89" x2="381.50" y2="471.89" stroke="#2a2a2a" stroke-width="0.65" stroke-linecap="butt"/>
<line x1="379.10" y1="467.13" x2="381.50" y2="467.13" stroke="#2a2a2a" stroke-width="0.65" stroke-linecap="butt"/>
<line x1="379.10" y1="462.37" x2="381.50" y2="462.37" stroke="#2a2a2a" stroke-width="0.65" stroke-linecap="butt"/>
<line x1="378.00" y1="457.62" x2="381.50" y2="457.62" stroke="#2a2a2a" stroke-width="0.65" stroke-linecap="butt"/>
<line x1="379.10" y1="452.86" x2="381.50" y2="452.86" stroke="#2a2a2a" stroke-width="0.65" stroke-linecap="butt"/>
<line x1="379.10" y1="448.10" x2="381.50" y2="448.10" stroke="#2a2a2a" stroke-width="0.65" stroke-linecap="butt"/>
<line x1="379.10" y1="443.34" x2="381.50" y2="443.34" stroke="#2a2a2a" stroke-width="0.65" stroke-linecap="butt"/>
<line x1="379.10" y1="438.58" x2="381.50" y2="438.58" stroke="#2a2a2a" stroke-width="0.65" stroke-linecap="butt"/>
<line x1="378.00" y1="433.82" x2="381.50" y2="433.82" stroke="#2a2a2a" stroke-width="0.65" stroke-linecap="butt"/>
<line x1="379.10" y1="429.06" x2="381.50" y2="429.06" stroke="#2a2a2a" stroke-width="0.65" stroke-linecap="butt"/>
<line x1="379.10" y1="424.31" x2="381.50" y2="424.31" stroke="#2a2a2a" stroke-width="0.65" stroke-linecap="butt"/>
<text transform="translate(377.20,505.20) rotate(-90)" font-size="4.8" text-anchor="middle" fill="#333">0</text>
<text transform="translate(377.20,481.41) rotate(-90)" font-size="4.8" text-anchor="middle" fill="#333">50</text>
<text transform="translate(377.20,457.62) rotate(-90)" font-size="4.8" text-anchor="middle" fill="#333">100</text>
<text transform="translate(377.20,433.82) rotate(-90)" font-size="4.8" text-anchor="middle" fill="#333">150</text>
<text transform="translate(371.40,464.25) rotate(-90)" font-size="6.3" text-anchor="middle" fill="#222">Count</text>
</g>
</svg></body></html>
